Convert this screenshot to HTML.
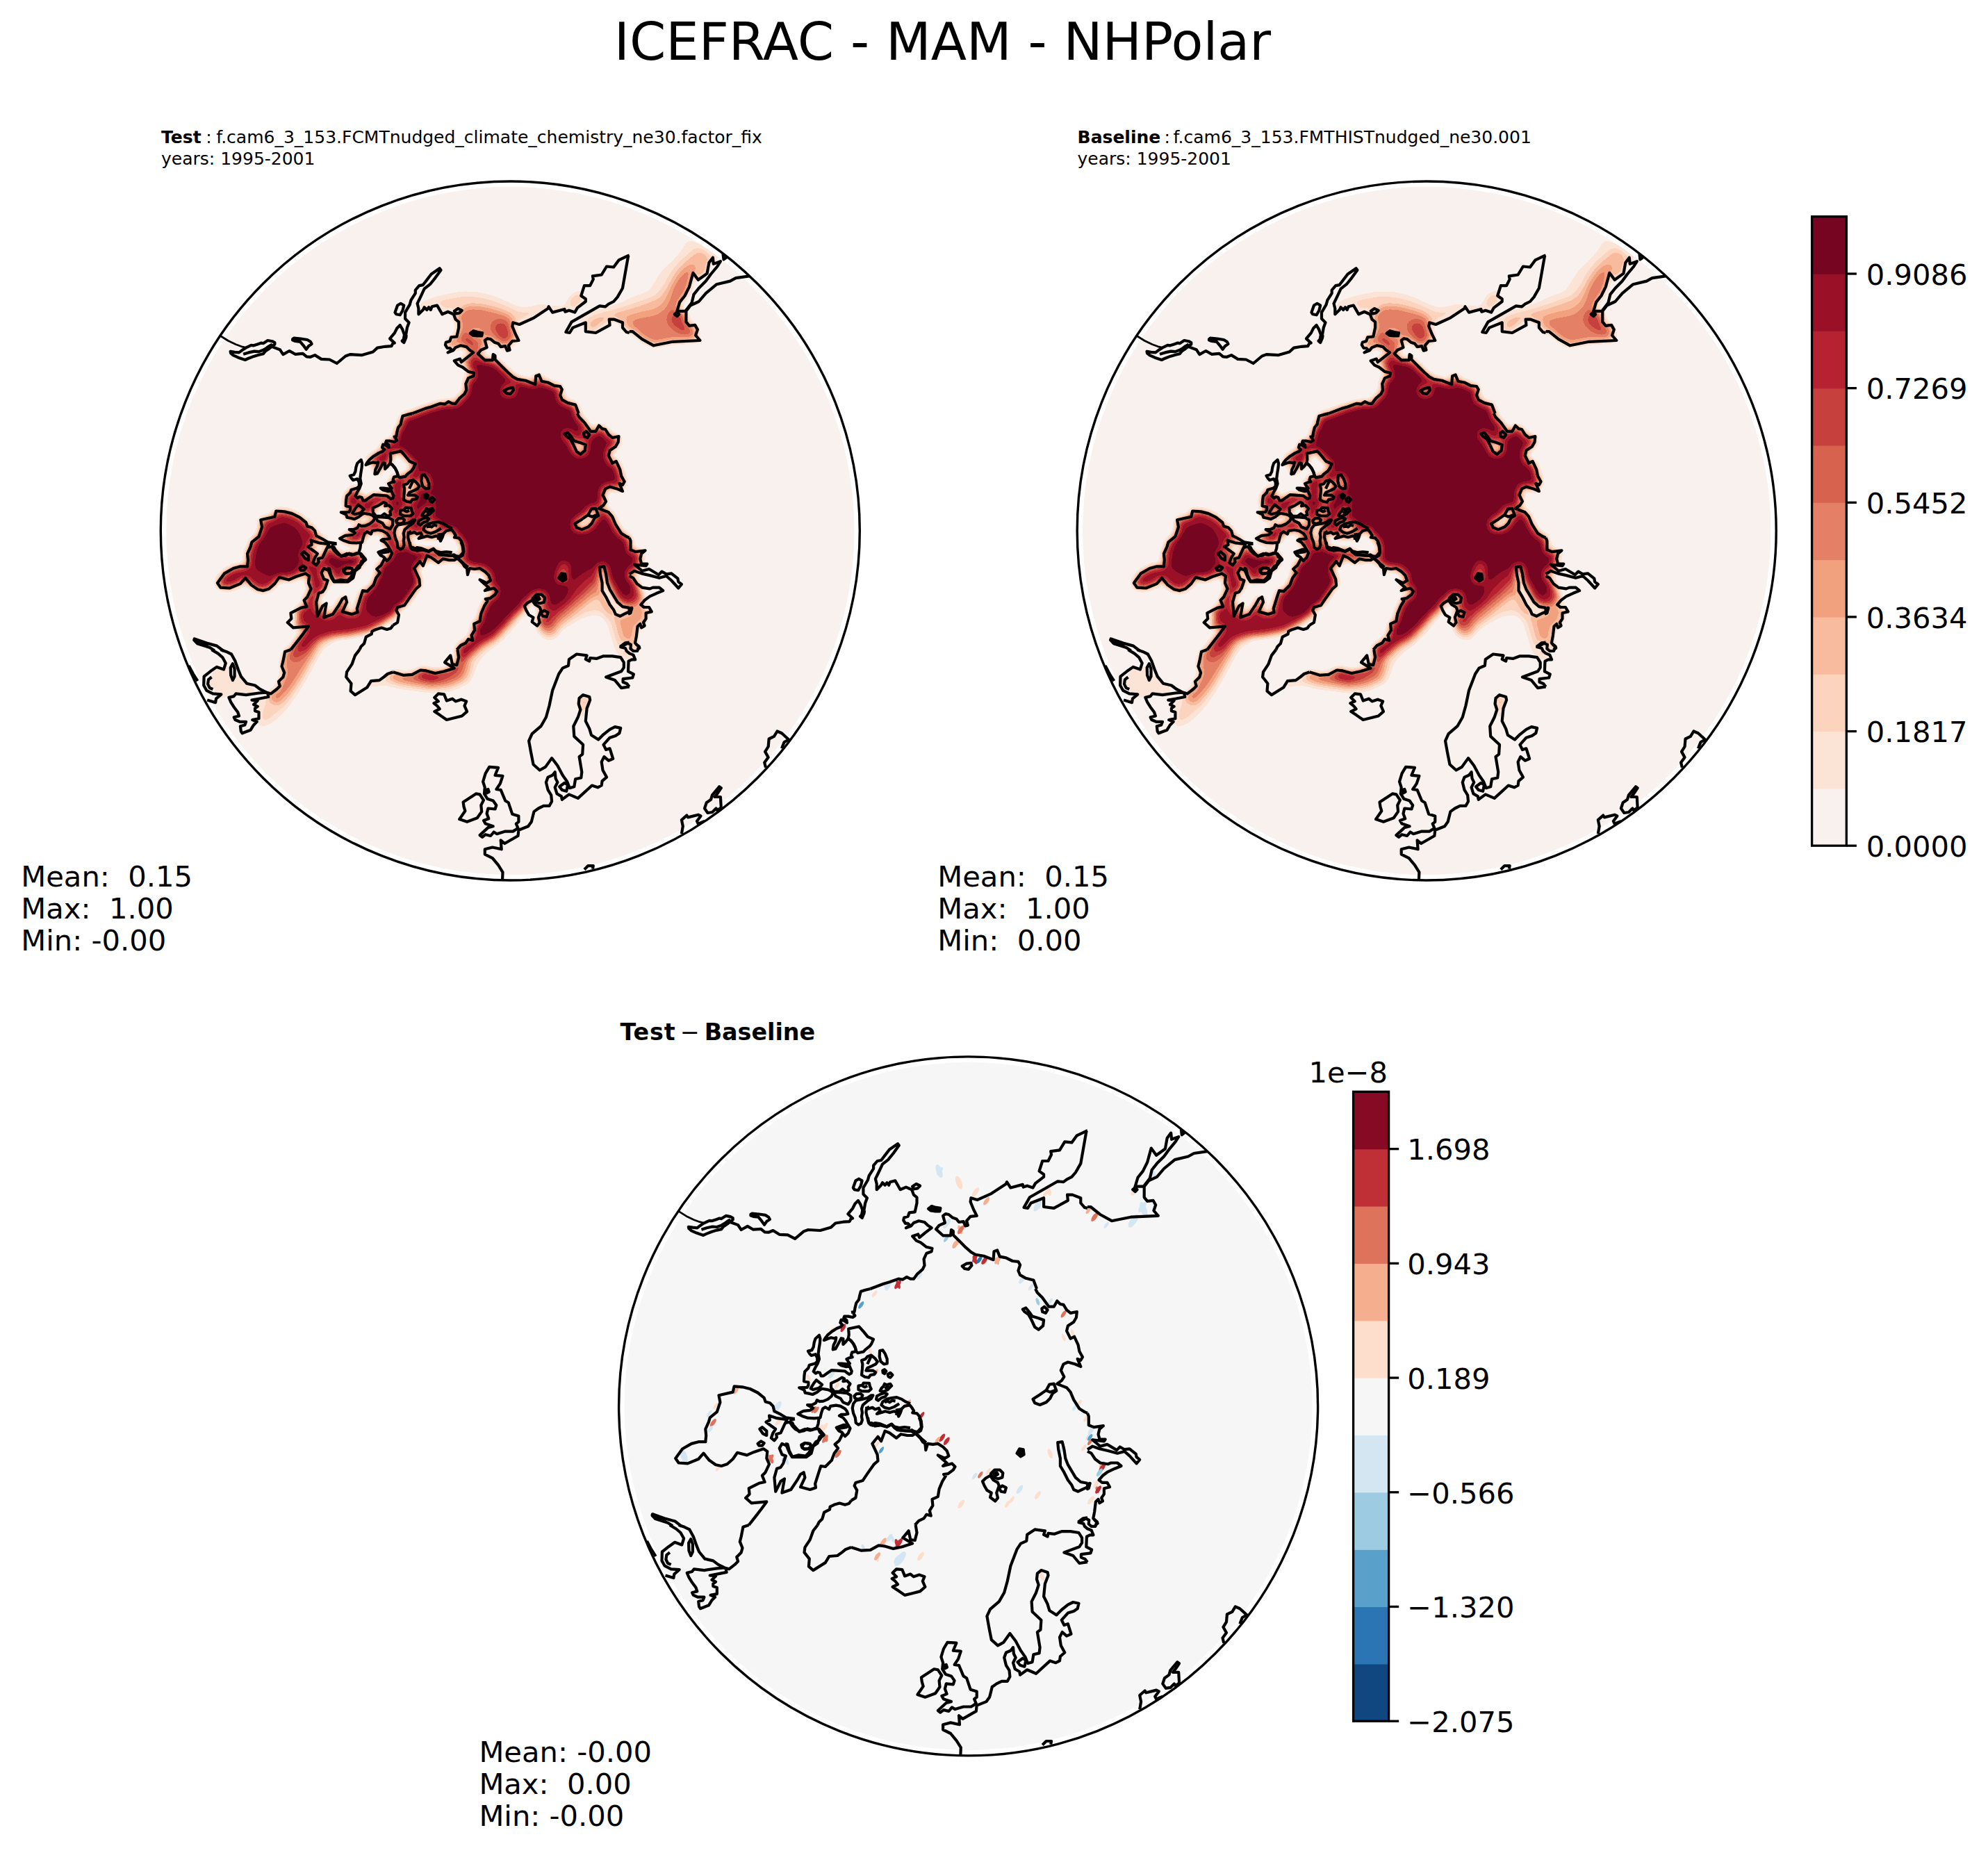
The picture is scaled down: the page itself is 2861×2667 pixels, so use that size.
<!DOCTYPE html>
<html lang="en"><head><meta charset="utf-8"><title>ICEFRAC - MAM - NHPolar</title>
<style>
html,body{margin:0;padding:0;background:#fff}
svg{display:block}
text{font-family:"DejaVu Sans","Liberation Sans",sans-serif;fill:#000}
.b{font-weight:bold}
</style></head><body>
<svg width="2861" height="2667" viewBox="0 0 2861 2667">
<defs>
<clipPath id="clipc"><circle cx="0" cy="0" r="503.0"/></clipPath>
<clipPath id="clipf"><circle cx="0" cy="0" r="495.0"/></clipPath>
<g id="coast" fill="none" stroke="#000" stroke-width="4.2" stroke-linejoin="round" stroke-linecap="butt" clip-path="url(#clipc)">
<path d="M-417.4,-280.8 L-405.8,-273.5 L-394.8,-268.2 L-386.6,-265.2 L-380.2,-263.6" stroke-width="2.8"/>
<path d="M-380.2,-263.6 L-372.8,-267.1 L-369.2,-266.7 L-363.6,-268.5 L-358.1,-270.4 L-355.4,-269.8 L-349.0,-274.0 L-342.5,-272.8 L-338.9,-270.9 L-338.9,-268.5 L-342.5,-265.8 L-347.1,-262.1 L-352.6,-258.4 L-355.4,-254.8 L-361.8,-253.3 L-369.2,-251.1 L-376.5,-248.3 L-381.4,-246.0 L-391.2,-249.3 L-398.5,-252.6 L-402.2,-255.7 L-402.7,-258.1 L-396.7,-257.2 L-390.3,-256.6 L-386.6,-259.4Z"/>
<path d="M-384.2,-254.2 L-376.5,-256.6 L-368.2,-258.4 L-361.8,-257.9 L-355.4,-260.3 L-350.8,-263.0 L-347.1,-265.8 L-342.5,-268.5"/>
<path d="M-342.5,-264.9 L-331.5,-260.8 L-326.9,-253.9 L-317.8,-259.0 L-309.5,-254.2 L-298.5,-255.1 L-293.0,-250.6 L-287.5,-250.2 L-281.1,-252.9 L-271.9,-247.1 L-260.0,-246.5 L-249.5,-241.0 L-237.0,-251.5 L-230.6,-253.9 L-213.2,-252.9 L-197.6,-257.5 L-191.2,-263.4 L-180.2,-265.2 L-171.0,-265.8 L-168.6,-270.4"/>
<path d="M-313.2,-275.9 L-311.4,-277.3 L-301.3,-276.4 L-292.1,-275.0 L-287.5,-272.2 L-285.7,-268.9 L-290.3,-265.8 L-293.6,-261.2 L-297.6,-266.7 L-302.2,-272.2 L-309.5,-273.1 L-313.2,-274.4Z"/>
<path d="M-150.3,-281.4 L-148.4,-292.4 L-145.7,-299.7 L-151.2,-305.2 L-151.2,-314.4 L-144.7,-325.4 L-142.9,-331.8 L-136.5,-341.9 L-136.5,-346.5 L-131.0,-352.9 L-125.5,-353.9 L-113.6,-369.5 L-101.6,-377.7 L-99.8,-375.3 L-108.0,-363.9 L-115.4,-354.8 L-123.6,-348.3 L-129.2,-336.4 L-133.7,-327.2 L-131.9,-319.9 L-131.9,-311.7 L-125.5,-318.1 L-123.6,-321.7 L-120.0,-318.1 L-117.2,-321.7 L-114.5,-318.1 L-112.6,-322.7 L-105.3,-324.5 L-101.6,-318.1 L-98.0,-311.7 L-89.7,-315.3 L-81.4,-311.7 L-78.7,-304.3 L-74.1,-300.6 L-74.1,-292.4 L-76.9,-279.5 L-85.1,-278.6 L-86.9,-273.1 L-92.5,-271.3 L-93.4,-267.6 L-90.6,-263.0 L-86.9,-263.0 L-84.2,-260.3 L-89.7,-256.6 L-82.4,-259.4 L-78.7,-263.9 L-71.4,-266.7 L-63.1,-264.9 L-58.5,-260.3 L-53.0,-256.6 L-61.3,-250.2 L-70.4,-242.8 L-72.3,-247.4 L-80.5,-244.7 L-75.0,-238.3 L-68.6,-235.5 L-60.3,-229.1 L-52.1,-227.2 L-53.0,-222.7 L-60.3,-219.9 L-64.0,-211.7 L-63.1,-202.5 L-65.8,-197.0 L-73.2,-190.6 L-78.7,-183.2 L-83.3,-183.2 L-88.8,-186.0 L-94.3,-182.3 L-100.7,-183.2 L-113.6,-178.6 L-122.7,-175.9 L-141.1,-168.9"/>
<path d="M-165.8,-314.4 L-162.2,-324.5 L-157.6,-327.2 L-153.0,-324.5 L-154.8,-317.2 L-158.5,-310.7 L-164.0,-311.7Z"/>
<path d="M-80.5,-316.2 L-75.0,-319.9 L-69.5,-317.2 L-73.2,-313.5 L-77.8,-312.6Z"/>
<path d="M-57.6,-284.1 L-53.0,-287.8 L-46.6,-286.0 L-40.2,-285.0 L-41.1,-280.5 L-47.5,-280.5 L-53.9,-281.4Z" fill="#000"/>
<path d="M171.4,-396.6 L169.9,-396.1 L156.2,-389.6 L148.8,-379.5 L138.7,-380.5 L131.4,-368.5 L118.6,-366.7 L119.5,-362.1 L114.9,-352.9 L106.6,-352.9 L102.0,-338.3 L108.5,-333.7 L108.5,-330.0 L96.5,-320.8 L92.9,-314.4 L84.6,-317.2 L79.1,-315.3 L78.2,-319.0 L60.8,-314.4 L55.3,-322.7 L54.3,-319.9 L33.2,-306.1 L13.1,-297.0 L3.9,-299.7 L3.0,-294.2 L7.5,-283.2 L12.1,-274.0 L3.0,-273.1 L-2.5,-266.7 L-0.7,-260.3 L-4.4,-259.4 L-7.1,-265.8 L-13.6,-264.9 L-17.2,-269.5 L-22.7,-271.3 L-28.2,-275.9 L-32.8,-276.8 L-36.5,-274.0 L-33.7,-263.9 L-42.0,-260.3 L-46.6,-254.8 L-36.5,-245.6 L-25.5,-245.6 L-24.6,-253.9 L-21.8,-252.0 L-21.8,-246.5 L-12.6,-237.3 L-3.5,-228.2 L3.9,-221.7 L10.3,-218.1 L22.2,-216.2 L36.0,-210.7 L36.9,-222.7 L41.5,-224.5 L45.2,-215.3 L54.3,-213.5 L63.5,-208.9 L71.8,-208.0 L74.5,-203.4 L71.8,-195.1 L74.5,-188.7 L82.8,-184.1 L93.8,-181.4 L98.4,-168.9"/>
<path d="M169.9,-396.1 L161.7,-349.3 L154.3,-336.4 L148.8,-330.0 L141.5,-326.3 L136.9,-322.7 L128.6,-323.6 L88.3,-300.6 L80.0,-286.0 L85.5,-285.0 L90.1,-292.4 L108.5,-299.7 L108.5,-286.9 L123.1,-285.0 L143.3,-296.1 L142.4,-304.3 L149.7,-304.3 L161.7,-299.7 L161.7,-292.4 L167.2,-286.0 L171.4,-285.0"/>
<path d="M-9.0,-201.6 L-2.5,-205.2 L3.9,-206.1 L4.8,-202.5 L0.2,-197.0 L-5.3,-197.9Z"/>
<path d="M171.4,-286.9 L176.0,-286.9 L189.7,-275.9 L206.3,-266.7 L233.8,-272.2 L273.2,-274.0 L266.8,-281.4 L269.6,-289.6 L265.9,-296.1 L257.6,-295.1 L253.1,-300.6 L253.1,-316.2 L259.5,-324.5 L271.4,-330.0 L281.5,-341.9 L297.1,-354.8 L316.4,-359.4 L324.6,-363.9 L343.9,-366.7"/>
<path d="M238.4,-310.7 L243.9,-329.1 L251.2,-338.3 L257.6,-351.1 L263.1,-371.3 L270.5,-361.2 L283.3,-370.4 L286.1,-386.0 L291.6,-393.3 L292.5,-384.1 L302.6,-387.8 L298.0,-380.5 L288.8,-369.5 L281.5,-359.4 L271.4,-349.3 L264.1,-340.1 L261.3,-328.2 L252.1,-316.2 L242.0,-316.2Z"/>
<path d="M236.5,-311.7 L240.2,-314.4 L243.0,-311.7 L240.2,-308.9Z" fill="#000"/>
<path d="M306.3,-397.9 L310.8,-393.3 L307.2,-390.6Z" fill="#000"/>
<path d="M-249.9,18.3 L-262.7,16.4 L-270.1,11.8 L-279.2,7.2 L-281.1,-0.1 L-285.7,-4.7 L-292.1,-6.5 L-293.9,-12.0 L-303.1,-19.4 L-314.1,-24.9 L-325.1,-27.6 L-337.0,-28.5 L-338.9,-20.3 L-359.1,-15.7 L-357.2,-5.6 L-361.8,8.2 L-371.9,16.4 L-373.7,22.8 L-378.3,32.9 L-377.4,42.1 L-378.3,51.3 L-388.4,51.3 L-398.5,54.0 L-411.4,61.4 L-421.4,75.1 L-416.9,81.6 L-404.0,82.5 L-388.4,76.1 L-381.1,67.8 L-372.8,77.9 L-363.6,84.3 L-355.4,86.1 L-347.1,83.4 L-338.9,76.1 L-332.5,66.9 L-318.7,70.5 L-308.6,66.0 L-294.8,61.4 L-289.3,65.0 L-290.3,75.1 L-286.6,83.4 L-292.1,95.3 L-296.7,99.9 L-293.0,109.1 L-301.3,110.9 L-315.9,118.3 L-315.0,126.5 L-320.5,132.0 L-312.3,139.4 L-290.3,137.5 L-297.6,147.6 L-306.8,159.5 L-315.9,171.1"/>
<path d="M-286.6,13.7 L-275.6,17.3 L-260.9,19.2 L-264.6,26.5 L-270.1,38.4 L-276.5,40.3 L-275.6,44.9 L-279.2,49.4 L-283.8,45.8 L-281.1,38.4 L-277.4,32.9 L-283.8,28.3 L-291.2,22.8 L-285.7,20.1Z"/>
<path d="M-300.3,32.9 L-296.7,30.2 L-290.3,35.7 L-290.3,42.1 L-295.8,39.4Z"/>
<path d="M-303.1,54.0 L-298.5,50.4 L-293.9,53.1 L-296.7,56.8 L-301.3,56.8Z"/>
<path d="M-249.9,18.3 L-255.4,20.1 L-251.7,27.4 L-243.5,36.6 L-235.2,32.9 L-227.9,34.8 L-220.5,32.0 L-215.0,32.9 L-208.6,40.3 L-214.1,43.9 L-216.9,53.1 L-223.3,57.7 L-226.0,67.8 L-233.4,73.3 L-253.6,73.3 L-257.2,67.8 L-261.8,56.8 L-268.2,54.0 L-271.9,60.5 L-268.2,69.6 L-262.7,71.5 L-266.4,82.5 L-270.1,88.0 L-275.6,89.8 L-279.2,102.7 L-277.4,122.8 L-270.1,108.2 L-264.6,104.5 L-268.2,124.7 L-255.4,120.1 L-246.2,106.3 L-241.6,98.1 L-237.0,95.3 L-235.2,102.7 L-241.6,116.4 L-227.9,120.1 L-219.6,117.3 L-220.5,111.8 L-215.9,97.2 L-212.3,86.1 L-205.8,87.1 L-196.7,77.9 L-193.0,67.8 L-187.5,60.5 L-192.1,55.0 L-185.7,49.4 L-180.2,38.4"/>
<path d="M-239.8,57.7 L-235.2,53.1 L-227.9,54.0 L-225.1,58.6 L-231.5,61.4 L-237.0,61.4Z"/>
<path d="M-141.1,-168.9 L-148.4,-167.1 L-154.8,-165.2 L-156.7,-157.9 L-157.6,-153.3 L-161.3,-148.7 L-163.1,-141.4 L-164.0,-135.9 L-168.6,-135.0"/>
<path d="M-168.6,135.7 L-162.2,132.0 L-160.3,121.0 L-164.0,114.6 L-162.2,110.0 L-152.1,107.2 L-144.7,96.2 L-135.6,83.4 L-130.1,78.8 L-131.0,69.6 L-138.3,54.0 L-130.1,43.9 L-125.5,50.4 L-120.0,35.7 L-113.6,38.4 L-103.5,45.8 L-97.0,40.3 L-87.9,42.1 L-80.5,42.1 L-75.9,39.4 L-68.6,46.7 L-65.8,51.3 L-62.2,54.0 L-61.3,63.2 L-58.5,54.0 L-51.2,55.0 L-43.8,54.0 L-36.5,58.6 L-31.0,64.1 L-28.2,71.5 L-33.7,75.1 L-43.8,70.5 L-36.5,77.0 L-31.0,81.6 L-36.5,86.1 L-23.6,82.5 L-19.1,87.1 L-21.8,91.7 L-29.2,97.2 L-35.6,98.1 L-32.8,100.8 L-37.4,108.2 L-42.0,119.2 L-43.8,130.2 L-52.1,133.9 L-51.2,143.0 L-55.8,150.4 L-53.9,157.7 L-60.3,155.9 L-64.0,161.4 L-71.4,165.0 L-76.9,171.1"/>
<path d="M96.5,-168.9 L99.3,-163.4 L106.6,-156.1 L115.8,-143.2 L123.1,-143.2 L127.7,-151.5 L132.3,-146.9 L136.9,-146.0 L141.5,-138.6 L147.0,-134.0 L156.2,-135.9 L155.3,-127.6 L151.6,-121.2 L143.3,-115.7 L141.5,-108.3 L147.0,-97.3 L152.5,-100.1 L158.0,-88.2 L159.8,-79.0 L164.4,-70.7 L161.7,-66.1 L157.1,-68.0 L161.7,-57.0 L153.4,-60.6 L143.3,-63.4 L136.9,-60.6 L133.2,-51.5 L137.8,-42.3 L134.2,-36.8 L127.7,-32.2 L134.2,-29.5 L141.5,-26.7 L147.0,-20.3 L151.6,-9.3 L159.8,3.6 L167.2,8.2 L171.4,10.0"/>
<path d="M78.2,-139.5 L82.8,-141.4 L87.4,-135.9 L92.0,-129.5 L101.1,-126.7 L108.5,-123.9 L107.5,-115.7 L101.1,-110.2 L95.6,-113.9 L91.0,-123.9 L86.4,-132.2 L80.9,-135.9Z"/>
<path d="M105.7,-140.5 L109.4,-143.2 L114.0,-138.6 L111.2,-134.0 L106.6,-135.9Z"/>
<path d="M92.9,-10.2 L103.0,-16.6 L112.1,-23.0 L116.7,-31.3 L123.1,-32.2 L126.8,-22.1 L121.3,-18.4 L117.6,-11.1 L112.1,-5.6 L103.0,-1.9 L95.6,-4.7Z"/>
<path d="M111.2,-23.0 L117.6,-20.3 L125.0,-23.0"/>
<path d="M69.9,67.8 L73.6,61.4 L79.1,62.3 L80.0,69.6 L75.4,72.4Z" fill="#000"/>
<path d="M171.4,110.9 L161.7,109.1 L154.3,102.7 L148.8,93.5 L143.3,84.3 L139.7,75.1 L137.8,62.3 L135.1,51.3 L128.6,52.2 L129.6,62.3 L132.3,75.1 L132.3,86.1 L137.8,95.3 L143.3,106.3 L148.8,113.7 L151.6,120.1 L158.0,122.8 L165.3,119.2 L171.4,116.4"/>
<path d="M20.4,108.2 L25.0,103.6 L31.4,99.9 L36.0,106.3 L42.4,110.0 L44.2,114.6 L40.6,124.7 L42.4,132.0 L38.7,136.6 L31.4,131.1 L33.2,124.7 L26.8,121.0 L23.1,114.6Z"/>
<path d="M32.3,97.2 L37.8,91.7 L45.2,91.7 L49.7,96.2 L48.8,102.7 L42.4,104.5 L35.1,101.7Z"/>
<path d="M36.9,97.2 L40.6,95.3 L42.4,98.1 L38.7,99.9Z"/>
<path d="M44.2,118.3 L48.8,114.6 L54.3,117.3 L52.5,123.8 L47.0,122.8Z"/>
<path d="M158.0,166.9 L165.3,161.4 L171.4,160.5"/>
<path d="M171.4,10.0 L173.2,14.6 L173.2,27.4 L180.6,30.2 L194.3,28.3 L188.8,32.9 L187.0,40.3 L188.8,47.6 L197.1,47.6 L195.3,50.4 L178.7,48.5 L184.2,53.1 L189.7,57.7 L199.8,55.0 L213.6,63.2 L218.2,58.6 L224.6,62.3 L232.0,61.4 L241.1,68.7 L242.0,73.3 L246.6,77.0 L242.0,82.5 L232.0,71.5 L224.6,65.0 L214.5,67.8 L200.8,64.1 L188.8,61.4 L178.7,57.7 L171.4,62.3"/>
<path d="M171.4,65.0 L176.9,67.8 L182.4,76.1 L189.7,81.6 L200.8,83.4 L205.3,81.6 L214.5,81.6 L220.0,86.1 L210.8,89.8 L200.8,94.4 L193.4,99.9 L187.9,106.3 L192.5,110.0 L199.8,110.0 L203.5,116.4 L195.3,118.3 L195.3,126.5 L191.6,132.0 L193.4,136.6 L188.8,139.4 L187.0,133.9 L183.3,137.5 L181.5,152.2 L179.7,161.4 L186.1,168.7 L182.4,171.1"/>
<path d="M171.4,111.8 L175.1,110.9 L173.2,118.3 L171.4,119.2Z" fill="#000"/>
<path d="M-315.9,171.1 L-324.2,173.9 L-326.9,187.6 L-328.8,195.0 L-325.1,204.1 L-326.9,210.5 L-333.4,217.0 L-331.5,223.4 L-336.1,228.0 L-344.4,234.4 L-350.8,232.6 L-360.0,228.0 L-367.3,222.5 L-379.2,219.7 L-387.5,209.6 L-391.2,200.5 L-395.8,187.6 L-401.3,177.5 L-408.6,173.9 L-416.9,171.1"/>
<path d="M-350.8,232.6 L-361.8,233.5 L-380.2,236.2 L-394.8,234.4 L-397.6,238.1 L-404.9,239.9 L-402.2,246.3 L-397.6,253.7 L-392.1,261.0 L-390.3,266.5 L-397.6,268.3 L-395.8,272.0 L-389.3,274.8 L-380.2,274.8 L-382.0,279.4 L-388.4,281.2 L-387.5,288.5 L-385.7,291.3 L-373.7,286.7 L-369.2,279.4 L-364.6,274.8 L-371.0,272.0 L-361.8,270.2 L-361.8,261.0 L-367.3,259.2 L-367.3,255.5 L-363.6,252.8 L-369.2,250.0 L-363.6,244.5 L-371.9,243.6 L-361.8,241.7 L-348.0,239.0 L-349.0,234.4"/>
<path d="M-429.7,171.1 L-420.5,176.6 L-414.1,182.1 L-409.5,190.4 L-412.3,199.5 L-422.4,195.9 L-431.5,202.3 L-440.7,209.6 L-441.1,222.5 L-437.0,229.8 L-427.9,234.4 L-415.9,235.3 L-423.3,241.7 L-424.2,247.2 L-436.1,243.6"/>
<path d="M-429.7,210.5 L-434.3,214.2 L-435.2,220.6 L-432.5,226.1 L-427.9,228.0"/>
<path d="M-399.4,191.3 L-396.7,198.6 L-396.7,209.6 L-399.4,215.1 L-402.2,207.8 L-402.5,196.8Z"/>
<path d="M-462.7,194.0 L-456.3,206.0 L-449.9,216.1"/>
<path d="M-168.6,203.2 L-176.5,206.0 L-182.0,210.5 L-188.4,215.1 L-200.3,216.1 L-205.8,225.2 L-223.3,236.2 L-229.7,230.7 L-228.8,219.7 L-236.1,210.5 L-235.2,203.2 L-227.9,192.2 L-223.3,179.4 L-216.9,171.1"/>
<path d="M-168.6,203.2 L-153.9,207.8 L-141.1,206.9 L-129.2,200.5 L-120.9,201.4 L-108.0,205.0 L-95.2,202.3 L-80.5,197.7 L-94.3,189.4 L-86.0,179.4 L-83.3,192.2 L-76.9,193.1 L-74.1,182.1 L-75.9,171.1"/>
<path d="M-109.0,239.9 L-103.5,234.4 L-95.2,235.3 L-91.5,244.5 L-83.3,241.7 L-78.7,245.4 L-70.4,242.7 L-63.1,245.4 L-65.8,251.8 L-62.2,260.1 L-69.5,266.5 L-80.5,269.3 L-91.5,272.0 L-100.7,265.6 L-109.0,260.1 L-101.6,256.4 L-105.3,251.8 L-109.9,248.2 L-103.5,245.4Z"/>
<path d="M-30.1,339.9 L-17.2,340.8 L-21.8,351.8 L-10.8,352.8 L-14.5,363.8 L-20.0,372.0 L-13.6,372.9 L-7.1,388.5 L-2.5,391.3 L3.0,407.8 L12.1,410.5 L12.1,418.8 L8.5,421.6 L11.2,428.0 L3.9,432.6 L-7.1,432.6 L-19.1,436.2 L-23.6,433.5 L-28.2,439.0 L-35.6,437.2 L-40.2,440.8 L-43.8,438.1 L-31.9,427.1 L-24.6,425.2 L-35.6,421.6 L-38.3,417.0 L-31.0,414.2 L-33.7,406.9 L-31.9,399.5 L-21.8,400.5 L-20.0,395.0 L-24.6,388.5 L-32.8,385.8 L-37.4,378.4 L-36.5,369.3 L-39.2,361.0 L-35.6,349.1Z"/>
<path d="M-35.0,372.9 L-31.9,372.0 L-30.6,375.7 L-33.7,377.5Z" fill="#000"/>
<path d="M-67.7,390.4 L-49.3,378.4 L-43.8,379.4 L-38.3,387.6 L-42.0,395.0 L-41.1,404.1 L-47.5,413.3 L-62.2,418.8 L-73.2,415.1 L-64.9,403.2 L-66.8,396.8Z"/>
<path d="M171.4,224.3 L159.8,226.1 L150.7,215.1 L137.8,210.5 L159.8,202.3 L163.5,196.8 L163.5,189.4 L158.9,182.1 L147.0,180.3 L134.2,180.3 L124.1,183.9 L114.9,183.0 L114.0,187.6 L108.5,184.9 L110.3,179.4 L95.6,177.5 L84.6,184.9 L83.7,194.0 L75.4,197.7 L69.9,206.0 L60.8,229.8 L56.2,251.8 L51.6,268.3 L44.2,281.2 L31.4,292.2 L26.8,302.3 L29.6,317.9 L33.2,336.2 L42.4,344.5 L50.7,339.9 L59.8,327.1 L68.1,338.1 L75.4,351.8 L81.9,361.0 L85.5,370.2 L92.0,368.3 L93.8,357.3 L102.0,355.5 L103.0,347.2 L99.3,325.2 L103.9,321.6 L104.8,307.8 L92.0,295.9 L91.0,281.2 L97.5,268.3 L101.1,257.3 L98.4,249.1 L99.3,240.8 L104.8,236.2 L114.0,239.0 L114.9,243.6 L110.3,255.5 L108.5,273.9 L114.0,284.9 L116.7,294.0 L126.8,300.5 L134.2,293.1 L143.3,285.8 L150.7,282.1 L158.9,283.9 L157.1,291.3 L151.6,295.0 L143.3,297.7 L134.2,307.8 L137.8,315.1 L143.3,313.3 L147.9,328.0 L141.5,330.7 L135.1,325.2 L131.4,332.6 L133.2,344.5 L138.7,354.6 L132.3,360.1 L131.4,366.5 L125.9,369.3 L117.6,366.5 L97.5,384.9 L84.6,379.4 L74.5,386.7 L73.6,382.1 L67.2,378.4 L64.4,369.3 L68.1,361.9 L65.3,356.4 L64.4,347.2 L60.8,351.8 L54.3,354.6 L51.6,361.9 L54.3,372.9 L58.9,380.3 L59.8,389.4 L56.2,395.9 L47.9,395.9 L40.6,399.5 L34.2,404.1 L30.5,418.8 L25.9,425.2 L12.1,430.7 L11.2,439.0 L-8.0,450.0 L-13.6,445.4 L-12.6,458.3 L-25.5,455.5 L-36.5,458.3 L-36.5,465.6 L-25.5,471.1 L-17.2,481.2 L-10.8,491.3 L-11.2,501.4"/>
<path d="M70.8,368.3 L78.2,362.8 L82.8,365.6 L80.9,374.8 L74.5,372.9Z"/>
<path d="M106.6,487.6 L112.1,482.1 L119.5,482.1 L118.6,486.7"/>
<path d="M246.6,436.2 L248.5,425.2 L246.6,416.1 L254.0,409.6 L255.8,412.4 L270.5,408.7 L274.2,410.5 L268.6,417.9 L270.5,421.6 L279.7,417.9"/>
<path d="M279.7,399.5 L282.4,391.3 L288.8,386.7 L290.7,380.3 L300.8,368.3 L303.5,370.2 L298.0,378.4 L294.3,383.0 L302.6,383.0 L303.5,398.6 L298.0,402.3 L296.2,399.5 L290.7,405.0 L284.2,406.0Z"/>
<path d="M367.7,340.8 L365.9,333.5 L371.4,326.1 L366.8,317.9 L371.4,310.5 L372.3,299.5 L379.7,295.9 L384.2,288.5 L390.7,291.3 L400.8,300.5 L394.3,304.1 L390.7,313.3"/>
<path d="M-165.5,-133.9 L-163.2,-130.2 L-166.4,-127.9 L-172.9,-129.3 L-178.4,-129.3 L-179.3,-127.0 L-175.2,-123.8 L-174.7,-120.1 L-179.3,-123.3 L-183.0,-124.3 L-184.3,-120.1 L-181.1,-116.9 L-183.9,-114.2 L-189.4,-111.9 L-196.7,-107.3 L-202.7,-102.2 L-205.9,-98.1 L-207.7,-94.9 L-202.2,-97.2 L-197.6,-98.6 L-193.0,-97.7 L-190.3,-98.6 L-191.2,-93.5 L-194.0,-88.0 L-194.9,-81.6 L-191.2,-82.5 L-186.6,-90.8 L-183.0,-97.7 L-180.2,-97.2 L-180.2,-88.9 L-176.5,-92.6 L-172.9,-97.2 L-169.2,-94.5 L-165.5,-89.9 L-162.8,-84.4 L-161.4,-78.9 L-167.4,-77.5 L-168.7,-73.3 L-166.9,-70.6 L-171.0,-69.7 L-175.2,-67.8 L-172.9,-64.2 L-170.6,-61.4 L-174.7,-60.5 L-182.0,-61.4 L-186.6,-61.4 L-183.0,-58.7 L-175.6,-56.8 L-171.0,-57.8 L-169.2,-53.2 L-167.8,-50.4 L-168.7,-47.2 L-171.5,-45.8 L-174.7,-48.1 L-177.5,-50.4 L-189.4,-51.3 L-196.7,-51.8 L-202.2,-48.1 L-208.6,-43.5 L-211.9,-43.5 L-213.7,-48.1 L-216.9,-49.0 L-219.7,-47.2 L-222.9,-50.0 L-220.1,-55.9 L-216.9,-61.4 L-214.6,-67.8 L-216.0,-75.2 L-215.1,-82.5 L-213.7,-90.8 L-213.2,-97.2 L-214.6,-102.2 L-220.1,-97.2 L-221.9,-91.7 L-222.9,-85.3 L-225.2,-80.7 L-230.7,-79.3 L-228.8,-76.1 L-226.1,-72.9 L-220.1,-74.7 L-217.4,-69.7 L-217.4,-64.2 L-220.6,-61.4 L-228.8,-59.1 L-230.2,-55.0 L-235.3,-50.0 L-236.2,-43.5 L-236.6,-35.7 L-230.2,-34.4 L-230.2,-30.2 L-232.0,-27.0 L-243.5,-26.6 L-236.2,-23.3 L-234.8,-19.2 L-229.7,-18.3 L-224.2,-16.9 L-217.8,-20.1 L-213.2,-23.8 L-210.5,-25.2 L-202.2,-23.8 L-198.6,-22.4 L-194.9,-19.2 L-196.7,-14.6 L-202.2,-10.0 L-208.6,-7.3 L-214.2,-6.8 L-217.8,-8.7 L-219.7,-4.5 L-225.2,-1.8 L-231.6,-1.8 L-223.3,2.8 L-227.9,6.0 L-237.5,6.9 L-245.3,11.1 L-238.9,14.3 L-230.7,17.0 L-221.5,17.5 L-213.2,16.6 L-211.4,9.2 L-209.6,3.7 L-205.9,1.4 L-200.4,4.6 L-198.6,0.0 L-190.3,-1.3 L-183.9,0.0 L-177.5,3.7 L-174.7,7.4 L-173.3,11.1 L-177.5,12.0 L-183.0,12.0 L-185.7,13.8 L-180.2,16.6 L-176.5,21.1 L-172.9,27.6 L-175.6,30.3 L-181.1,31.2 L-187.5,32.2 L-184.8,36.1"/>
<path d="M-172.4,-111.4 L-157.3,-114.6 L-150.8,-107.3 L-144.9,-100.0 L-136.6,-96.3 L-139.4,-89.9 L-142.1,-86.2 L-148.1,-81.6 L-150.8,-78.4 L-159.1,-76.6 L-161.4,-78.9 L-162.8,-84.4 L-165.5,-89.9 L-169.2,-94.5 L-172.9,-97.2 L-171.9,-102.7Z"/>
<path d="M-127.5,-79.8 L-123.3,-80.7 L-119.7,-75.2 L-116.9,-67.8 L-116.9,-61.4 L-121.5,-60.5 L-126.1,-64.2 L-127.9,-71.5Z"/>
<path d="M-153.6,-66.0 L-148.1,-67.8 L-145.3,-71.5 L-139.8,-73.3 L-134.3,-68.8 L-130.7,-64.2 L-133.4,-60.5 L-138.9,-57.8 L-145.3,-55.0 L-147.2,-51.3 L-137.1,-51.3 L-133.4,-48.6 L-135.3,-45.8 L-140.8,-44.9 L-143.5,-41.2 L-149.0,-42.2 L-153.6,-44.9 L-152.7,-53.2 L-152.2,-60.5Z"/>
<path d="M-145.3,-60.5 L-139.8,-72.4"/>
<path d="M-123.3,-51.3 L-120.6,-52.7 L-118.3,-50.4 L-120.6,-46.7 L-122.9,-48.1Z"/>
<path d="M-116.0,-45.8 L-112.3,-48.1 L-109.1,-44.9 L-112.3,-41.2 L-115.1,-42.6Z"/>
<path d="M-218.7,-37.6 L-210.5,-31.1 L-215.1,-26.1 L-223.3,-23.8 L-227.0,-25.6 L-222.4,-33.0Z"/>
<path d="M-197.6,-33.0 L-189.4,-36.7 L-182.0,-41.2 L-178.4,-39.4 L-180.2,-35.7 L-174.7,-36.7 L-170.1,-32.1 L-172.9,-27.5 L-171.9,-22.9 L-176.5,-21.1 L-181.1,-24.7 L-185.7,-21.1 L-193.0,-21.1 L-197.6,-26.6Z"/>
<path d="M-158.2,-29.3 L-152.7,-30.2 L-150.8,-33.4 L-142.6,-33.0 L-141.7,-28.4 L-139.8,-24.7 L-143.5,-21.5 L-152.7,-21.5 L-158.2,-23.8Z"/>
<path d="M-152.7,-29.3 L-149.0,-27.5 L-145.3,-29.3"/>
<path d="M-120.6,-32.1 L-117.8,-30.7 L-112.3,-32.1 L-110.5,-29.3 L-116.0,-23.8 L-121.5,-21.1 L-127.0,-22.0 L-125.2,-25.6 L-122.4,-28.4Z"/>
<path d="M-120.6,-25.6 L-114.2,-29.3"/>
<path d="M-131.6,-14.6 L-126.1,-17.4 L-120.6,-19.2 L-116.9,-17.4 L-119.7,-13.7 L-125.2,-11.9 L-129.7,-8.2 L-132.5,-10.0Z"/>
<path d="M-164.2,-14.6 L-160.9,-17.8 L-155.4,-18.3 L-152.2,-15.6 L-153.6,-11.9 L-159.1,-10.0 L-163.2,-11.4Z"/>
<path d="M-194.0,-20.1 L-183.9,-19.7 L-174.7,-18.8 L-169.2,-15.6 L-169.2,-8.2 L-172.9,-2.7 L-180.2,-5.5 L-183.9,-11.0 L-191.2,-14.6Z"/>
<path d="M-161.9,-8.2 L-152.7,-10.0 L-145.3,-11.9 L-139.8,-15.6 L-137.1,-15.6 L-139.8,-11.0 L-145.3,-7.3 L-151.8,-1.8 L-153.6,3.7 L-152.7,9.2 L-153.6,14.7 L-152.7,20.2 L-154.5,24.8 L-158.2,26.7 L-161.9,23.9 L-162.8,16.6 L-165.5,10.1 L-166.9,2.8 L-165.5,-3.6Z"/>
<path d="M-83.6,-3.6 L-90.3,-6.4 L-95.8,-10.0 L-103.1,-12.8 L-110.5,-11.9 L-117.8,-10.0 L-123.3,-6.4 L-125.2,-1.8 L-120.6,1.9 L-114.2,3.7 L-106.8,1.0 L-99.5,-3.6"/>
<path d="M-120.6,-5.5 L-116.0,-7.3 L-113.2,-5.5 L-109.6,-8.2 L-105.0,-7.3"/>
<path d="M-145.3,0.0 L-143.5,3.7 L-138.0,1.9 L-134.3,4.6 L-128.8,2.8 L-127.0,6.5 L-131.6,11.1 L-125.2,9.2 L-119.7,7.4 L-113.2,9.2 L-106.8,7.4 L-102.2,9.2 L-100.4,14.7 L-97.6,9.2 L-95.8,3.7 L-92.1,0.0 L-83.6,-1.8"/>
<path d="M-146.3,1.0 L-147.2,9.2 L-145.3,16.6 L-143.5,23.9 L-138.9,25.7 L-134.3,24.8 L-131.6,27.6 L-125.2,26.7 L-117.8,29.4 L-110.5,25.7 L-106.8,29.4 L-99.5,31.2 L-92.1,30.3 L-83.6,31.2"/>
<path d="M-168.7,-270.1 L-166.5,-270.4 L-173.3,-276.6 L-166.5,-284.6 L-163.1,-291.4 L-158.6,-295.9 L-155.2,-290.2 L-152.3,-282.3 L-153.5,-275.5 L-155.7,-273.2 L-152.9,-271.0 L-150.1,-277.8 L-149.5,-281.7"/>
<path d="M-168.6,135.7 L-171.8,140.2 L-177.5,141.9 L-185.4,139.6 L-193.3,141.9 L-199.0,144.7 L-199.6,148.7 L-207.5,152.7 L-210.3,162.3 L-214.9,166.8 L-216.9,171.1"/>
<path d="M-189.9,30.8 L-179.2,26.9 L-172.9,27.4 L-170.1,32.0 L-172.9,38.8 L-177.5,43.3 L-182.0,37.6 L-186.5,35.4Z"/>
<path d="M-263.6,24.0 L-256.8,22.9 L-253.4,28.6 L-248.9,33.1 L-242.1,36.5 L-236.4,35.4 L-231.9,32.5 L-225.1,34.2 L-218.3,32.0 L-216.0,25.2 L-214.9,16.1"/>
<path d="M-216.0,32.0 L-213.7,37.6 L-208.1,41.6 L-211.5,44.4 L-214.9,49.0 L-219.4,51.2 L-225.1,59.2 L-229.6,67.1 L-234.1,71.6 L-244.3,70.5 L-253.4,72.8 L-257.9,63.7 L-260.2,54.6 L-263.6,54.1"/>
<path d="M-240.4,55.8 L-235.3,52.9 L-228.5,54.1 L-226.2,57.5 L-229.6,60.9 L-235.3,62.0 L-239.2,59.7Z"/>
<path d="M-144.6,16.1 L-143.5,22.9 L-136.7,25.2 L-134.4,28.6 L-126.5,27.4 L-117.4,29.7 L-110.6,26.3 L-106.1,30.8 L-99.3,34.2 L-90.2,35.4 L-82.3,35.9 L-73.2,37.1 L-67.5,30.8 L-68.7,21.8 L-70.9,16.1"/>
<path d="M-82.3,35.9 L-72.1,42.2 L-66.4,47.8 L-60.7,52.4"/>
<path d="M-84.9,-2.4 L-81.2,2.2 L-78.5,6.7 L-80.3,9.5 L-73.9,10.4 L-70.2,15.0 L-67.9,21.4 L-67.0,29.7 L-68.4,35.2 L-72.0,37.5 L-77.5,36.6 L-81.2,34.3 L-84.0,35.6 L-92.2,35.2 L-102.3,34.3 L-106.9,30.6 L-110.6,26.0 L-117.0,29.7 L-122.5,27.4 L-128.0,25.1 L-134.4,24.2 L-137.2,27.8 L-140.8,26.9 L-143.6,24.2"/>
<path d="M-101.2,3.1 L-100.3,8.6 L-102.1,13.6" stroke-width="8"/>
<path d="M171.4,224.5 L168.0,220.0 L162.3,217.7 L162.3,213.2 L175.9,211.5 L177.6,206.4 L169.7,202.4 L170.3,187.7 L174.8,185.4 L179.9,185.4 L177.1,178.6 L171.4,176.4 L167.4,173.0 L165.7,169.0 L158.9,167.3 L169.1,161.6 L173.7,163.9 L173.1,169.6 L177.1,173.0 L182.7,173.0 L185.6,166.7 L181.0,162.8"/>
<path d="M-412.6,173.0 L-422.2,165.6 L-436.9,161.6 L-454.5,155.4 L-455.1,157.1 L-450.5,162.2 L-432.4,167.9 L-425.6,172.4"/>
<path d="M-454.7,156.0 L-450.5,159.4 L-434.7,165.0" stroke-width="6"/>
</g>
<clipPath id="ocean"><path d="M22.0,-496.5 0.0,-497.0 -38.5,-495.5 -66.5,-492.5 -101.5,-486.5 -132.5,-479.0 -163.0,-469.5 -190.5,-459.0 -212.0,-449.5 -238.5,-436.0 -266.5,-419.5 -291.5,-402.5 -321.5,-379.0 -340.0,-362.5 -368.0,-334.0 -392.0,-305.5 -407.5,-284.5 -412.0,-277.0 -400.5,-270.5 -385.0,-264.5 -379.5,-264.0 -373.5,-267.0 -368.0,-267.0 -359.0,-270.5 -355.5,-270.0 -348.0,-274.0 -340.0,-271.5 -339.5,-269.0 -342.0,-266.5 -341.5,-264.5 -333.0,-261.5 -329.0,-256.0 -326.5,-254.5 -318.0,-259.0 -310.0,-254.5 -299.0,-255.0 -292.5,-250.5 -287.0,-250.5 -281.5,-253.0 -273.0,-247.5 -260.0,-246.5 -249.5,-241.5 -236.5,-252.0 -231.0,-254.0 -213.0,-253.0 -198.0,-257.5 -191.0,-263.5 -171.0,-266.0 -168.5,-270.5 -168.5,-272.5 -173.0,-277.0 -166.5,-284.5 -163.5,-291.0 -159.0,-295.5 -155.0,-289.0 -153.5,-284.0 -151.5,-283.0 -150.0,-283.5 -148.5,-292.5 -146.0,-300.0 -151.0,-305.5 -151.0,-315.0 -144.5,-325.5 -143.0,-332.0 -136.5,-342.0 -136.5,-346.5 -130.5,-353.0 -125.5,-354.0 -114.5,-368.5 -102.0,-377.5 -100.5,-375.5 -114.0,-357.5 -124.0,-349.0 -134.0,-328.0 -132.5,-321.0 -132.5,-315.5 -130.5,-314.0 -129.0,-314.5 -124.0,-321.0 -120.5,-319.0 -117.5,-321.0 -115.0,-320.0 -113.5,-320.5 -112.0,-323.0 -106.0,-324.5 -99.0,-312.5 -97.5,-312.0 -91.0,-315.0 -89.0,-315.0 -81.5,-311.0 -79.0,-304.0 -74.5,-300.5 -74.5,-292.5 -77.0,-281.0 -79.5,-279.5 -85.0,-279.0 -88.0,-273.0 -93.0,-271.5 -93.5,-267.0 -91.5,-263.5 -87.5,-263.0 -83.5,-260.0 -81.5,-260.5 -78.0,-264.5 -72.5,-266.5 -65.0,-265.5 -59.0,-260.0 -54.0,-257.0 -70.0,-244.0 -72.0,-247.0 -74.0,-247.5 -79.5,-245.5 -80.0,-243.5 -76.0,-238.5 -69.5,-236.0 -60.5,-229.0 -53.5,-227.5 -53.0,-225.0 -54.5,-222.5 -61.0,-220.0 -64.5,-212.5 -63.5,-203.0 -66.0,-198.0 -74.0,-191.0 -79.5,-183.5 -83.0,-183.5 -88.0,-186.0 -91.0,-185.5 -94.5,-183.0 -101.5,-183.5 -124.5,-176.0 -140.5,-169.5 -155.0,-165.5 -158.0,-154.0 -162.5,-147.0 -165.5,-135.0 -164.0,-130.5 -166.5,-128.5 -171.0,-129.5 -178.5,-129.0 -179.0,-127.0 -175.5,-123.5 -176.0,-121.5 -181.5,-124.5 -183.5,-124.0 -184.5,-120.0 -182.0,-117.0 -184.5,-114.5 -192.5,-111.0 -198.5,-107.0 -205.0,-100.5 -205.5,-98.5 -203.5,-97.0 -199.0,-98.5 -191.0,-98.0 -191.5,-94.0 -195.0,-86.5 -195.0,-83.5 -193.0,-82.0 -190.5,-83.5 -183.0,-97.5 -180.5,-97.0 -180.5,-93.0 -178.5,-91.5 -174.0,-95.5 -172.0,-101.0 -172.5,-111.0 -171.0,-112.0 -158.0,-114.5 -145.5,-100.0 -137.5,-96.0 -141.5,-88.0 -152.0,-78.5 -158.5,-77.0 -162.0,-79.0 -167.5,-78.0 -169.0,-75.0 -168.0,-71.5 -174.0,-69.0 -174.5,-66.0 -171.5,-62.0 -173.0,-59.5 -168.5,-51.0 -169.5,-47.5 -172.0,-46.5 -178.5,-51.0 -197.0,-52.0 -209.0,-44.0 -211.5,-44.0 -214.0,-48.5 -217.5,-49.0 -220.0,-48.0 -222.5,-50.5 -218.0,-59.5 -218.5,-61.5 -220.0,-62.0 -229.0,-59.5 -230.5,-56.0 -236.0,-50.0 -237.0,-36.5 -236.5,-35.5 -231.0,-34.5 -230.5,-31.0 -232.5,-27.5 -238.0,-27.0 -238.5,-25.0 -236.5,-23.0 -235.5,-19.5 -224.5,-17.0 -217.0,-20.5 -213.5,-24.0 -211.0,-25.0 -202.5,-24.0 -197.5,-21.5 -196.0,-22.0 -195.5,-24.5 -197.5,-27.0 -197.5,-33.0 -182.5,-41.0 -179.0,-39.5 -179.0,-36.5 -175.0,-36.5 -171.0,-32.5 -173.5,-28.0 -172.5,-23.5 -176.5,-21.0 -176.0,-19.0 -169.5,-15.0 -169.5,-9.0 -173.5,-3.5 -179.5,-5.5 -184.0,-11.5 -190.5,-14.5 -192.5,-18.0 -194.5,-18.5 -196.0,-18.0 -199.0,-13.5 -205.5,-9.0 -209.0,-7.5 -219.0,-8.0 -221.0,-4.5 -226.5,-2.0 -227.0,0.5 -224.5,2.5 -227.5,5.0 -236.0,6.0 -243.5,10.0 -243.0,12.5 -231.5,17.0 -216.5,17.0 -213.0,15.5 -210.0,4.5 -206.0,1.5 -201.5,3.5 -199.5,2.5 -198.5,0.0 -190.5,-1.5 -185.5,-0.5 -179.0,3.0 -174.0,10.0 -176.5,11.5 -184.0,12.0 -184.5,14.0 -177.0,21.0 -171.0,31.0 -172.0,35.5 -173.5,38.5 -177.5,42.0 -180.5,40.5 -182.0,41.0 -185.5,48.0 -191.5,53.5 -192.0,55.5 -188.5,60.5 -193.0,66.5 -197.0,77.0 -206.5,86.5 -213.0,86.5 -221.0,110.5 -220.0,116.5 -221.0,117.5 -229.0,119.5 -241.0,116.0 -235.5,103.5 -236.0,98.0 -237.0,96.5 -239.0,96.0 -242.5,98.0 -247.0,106.5 -256.5,120.0 -267.5,124.0 -268.0,122.5 -265.5,111.0 -266.0,106.5 -267.5,106.0 -270.5,107.5 -277.0,120.5 -278.0,118.0 -279.0,101.5 -276.0,90.5 -270.0,88.0 -265.5,80.5 -263.0,73.0 -264.0,70.5 -268.5,68.5 -271.5,61.5 -271.5,59.5 -268.0,54.0 -266.0,55.0 -263.5,54.0 -260.5,55.0 -258.5,63.5 -254.0,72.0 -252.0,72.5 -245.5,70.5 -235.0,71.5 -229.5,67.0 -227.5,62.0 -229.5,60.5 -236.0,61.5 -239.5,58.5 -240.0,56.0 -235.5,53.0 -228.5,54.0 -226.5,57.0 -223.5,57.0 -220.0,52.0 -216.0,49.5 -214.5,44.5 -210.5,41.0 -211.0,39.0 -214.0,36.5 -215.5,33.0 -217.5,32.0 -220.5,32.0 -228.0,34.5 -233.5,33.0 -238.5,35.5 -243.5,36.0 -248.5,33.0 -254.0,27.5 -256.5,23.0 -259.0,22.5 -264.5,24.5 -270.0,37.0 -271.5,38.5 -276.0,39.5 -276.0,44.5 -279.5,48.5 -283.5,45.5 -278.0,32.5 -290.5,22.5 -286.5,20.5 -286.0,14.0 -277.0,17.0 -268.0,18.5 -264.0,18.0 -264.0,15.0 -279.0,7.0 -281.5,-1.0 -285.5,-5.0 -291.5,-6.5 -294.0,-12.5 -301.0,-18.5 -314.5,-25.5 -320.0,-27.0 -336.0,-29.0 -338.0,-27.5 -340.0,-20.5 -359.0,-16.0 -359.5,-14.0 -358.0,-4.5 -362.0,7.0 -372.0,15.5 -374.5,23.5 -379.0,32.5 -378.0,39.0 -378.5,50.0 -379.5,51.0 -390.0,51.0 -402.0,55.0 -411.5,60.5 -421.0,73.0 -421.5,75.5 -418.0,81.0 -415.0,82.0 -404.0,82.5 -388.0,76.0 -381.0,68.5 -374.0,77.5 -365.0,84.0 -355.0,86.0 -347.5,83.5 -339.0,76.5 -332.5,67.0 -319.0,70.5 -296.0,61.5 -290.0,65.0 -290.5,76.0 -287.0,83.0 -292.0,94.0 -297.0,99.5 -293.5,108.5 -302.0,110.5 -316.0,117.5 -315.5,126.0 -320.0,131.0 -319.5,133.5 -314.0,138.5 -311.5,139.5 -291.5,138.0 -317.0,171.0 -323.5,173.0 -325.0,174.5 -329.0,192.5 -329.0,196.0 -325.5,204.0 -327.5,210.0 -333.5,216.5 -332.0,223.0 -345.0,234.0 -348.5,234.0 -348.5,238.0 -349.5,239.0 -363.5,241.5 -364.5,244.5 -368.0,248.0 -368.0,251.0 -365.0,252.5 -367.5,255.0 -368.0,258.5 -367.5,259.5 -362.5,261.0 -362.5,269.5 -367.0,271.0 -367.5,273.0 -366.0,275.0 -370.0,279.0 -374.0,286.0 -384.5,290.5 -387.0,289.0 -388.5,281.5 -382.0,279.5 -381.0,276.0 -383.0,274.5 -389.5,274.5 -396.5,270.5 -397.5,268.5 -391.5,266.5 -391.0,263.5 -393.0,259.0 -402.0,246.5 -404.5,240.0 -397.5,238.0 -394.5,234.5 -377.5,236.0 -356.0,232.5 -355.5,230.5 -366.5,222.5 -378.5,219.5 -388.0,208.5 -395.5,187.5 -402.0,176.5 -416.5,171.0 -417.5,168.5 -422.5,165.0 -433.0,162.0 -435.0,163.5 -433.5,167.5 -426.5,172.0 -425.0,174.5 -421.0,176.5 -414.0,183.0 -410.0,190.0 -413.0,199.0 -422.5,195.5 -430.5,200.5 -432.0,202.5 -430.5,210.0 -435.0,214.5 -435.5,221.0 -433.0,226.0 -428.5,228.0 -428.0,234.0 -417.5,235.5 -423.5,241.0 -425.0,246.5 -432.5,244.5 -407.5,284.5 -379.0,321.5 -362.5,340.0 -340.0,362.5 -315.5,384.0 -284.5,407.5 -250.0,429.5 -212.0,449.5 -178.0,464.0 -139.5,477.0 -101.5,486.5 -66.5,492.5 -22.0,496.5 -11.0,496.5 -11.0,490.5 -17.5,480.0 -24.0,472.0 -36.5,465.0 -36.5,458.5 -27.0,455.5 -15.0,458.0 -13.5,457.5 -13.0,446.5 -8.5,449.5 -5.0,448.5 11.0,439.5 12.5,430.0 24.0,426.0 27.0,424.0 31.0,417.5 33.5,406.0 35.5,403.0 47.0,396.0 56.5,395.5 59.5,390.0 59.0,380.0 54.0,372.0 51.5,361.5 55.0,354.0 60.5,352.0 63.5,348.5 64.5,356.0 67.5,361.5 64.0,368.5 66.0,377.0 67.5,379.0 72.5,381.5 74.0,385.0 75.5,385.5 84.5,379.5 96.5,384.5 98.5,384.0 117.5,366.5 124.5,369.0 130.5,367.0 132.5,360.0 138.0,355.5 138.5,353.5 133.0,344.0 131.5,332.0 135.0,325.5 141.5,330.5 147.0,328.5 147.5,325.5 143.5,314.0 140.5,313.5 138.0,314.5 134.5,307.5 143.5,297.5 151.5,295.0 157.0,291.5 158.5,284.5 155.0,282.5 150.0,282.0 143.0,285.0 126.5,299.5 116.5,293.0 114.5,285.5 108.5,274.0 110.0,256.5 115.0,243.5 114.5,240.0 112.5,238.0 104.5,236.0 99.0,240.0 98.0,250.0 100.5,257.5 97.5,267.0 90.5,280.5 91.5,295.5 104.0,307.5 103.5,321.0 99.0,325.0 102.5,346.0 102.0,352.5 100.5,355.5 93.5,357.0 91.0,368.0 86.5,369.5 83.5,368.0 82.0,368.5 80.0,374.0 74.5,372.5 71.5,368.0 78.0,363.0 80.0,364.0 82.0,363.5 82.5,361.5 74.5,350.0 68.5,338.0 61.5,328.5 58.0,328.5 51.0,338.5 43.0,343.5 40.0,342.0 33.0,335.5 27.0,301.5 31.0,292.5 44.5,281.0 52.0,267.5 57.0,249.0 60.5,230.5 70.0,205.5 76.5,197.0 83.5,194.0 84.5,185.0 95.5,177.5 109.0,179.0 108.5,184.5 111.5,186.5 114.0,186.0 115.5,183.0 124.0,184.0 134.5,180.0 146.5,180.0 158.0,182.0 163.0,189.5 163.0,196.5 158.5,202.5 141.0,208.5 140.5,210.5 141.5,212.0 149.5,214.5 158.5,225.5 161.5,226.0 169.5,224.5 170.0,222.5 169.0,220.5 162.5,217.0 162.5,213.5 176.0,211.0 177.0,208.5 176.5,205.5 169.5,201.5 170.0,189.5 171.5,187.0 178.5,185.0 179.0,182.5 177.0,178.0 171.5,176.0 167.0,172.0 165.5,168.5 158.5,166.5 165.0,161.5 170.5,160.5 173.0,164.0 172.5,169.0 175.0,172.0 180.5,173.0 184.0,170.0 184.5,166.5 180.0,161.5 183.0,138.5 186.5,134.5 188.0,138.0 190.0,138.5 192.5,137.0 193.0,134.5 192.0,131.5 195.5,126.0 195.5,118.5 202.0,116.5 202.5,115.5 200.0,110.0 192.5,109.5 188.5,105.5 194.5,99.0 202.0,93.5 218.0,87.0 218.5,86.0 218.0,84.0 213.5,81.0 205.0,81.0 200.5,83.0 189.5,81.0 181.5,74.5 176.5,67.0 171.5,64.5 171.5,62.0 178.0,58.0 180.0,58.0 188.5,61.5 212.5,67.5 216.0,67.5 224.5,65.0 225.0,63.0 223.5,61.0 218.5,58.5 216.5,59.0 213.0,62.5 200.0,55.0 189.5,57.0 181.0,50.0 181.0,49.0 186.5,49.5 188.5,48.0 187.0,39.5 188.5,33.5 190.5,31.0 190.0,29.0 179.5,29.5 174.0,27.5 173.0,26.5 173.0,13.0 171.5,10.0 159.0,2.0 152.0,-9.0 147.0,-21.0 142.0,-27.0 128.5,-32.5 134.5,-37.0 137.5,-42.0 133.5,-51.0 136.5,-60.0 143.5,-63.5 158.0,-58.5 159.5,-59.0 160.0,-62.0 157.5,-67.0 162.0,-67.0 164.0,-70.0 164.0,-72.0 159.5,-80.0 158.0,-89.0 153.0,-99.5 151.0,-100.0 147.0,-98.0 141.5,-108.5 143.0,-115.0 151.5,-121.0 155.5,-128.0 155.5,-135.5 153.5,-136.0 147.0,-134.5 141.0,-139.5 136.5,-146.5 133.0,-147.0 128.0,-151.0 126.0,-150.0 122.0,-143.5 116.0,-143.5 106.5,-157.0 98.5,-165.0 96.5,-169.0 97.5,-172.0 94.0,-181.5 82.5,-184.5 74.0,-190.0 72.0,-196.5 74.5,-204.0 72.0,-208.0 64.5,-209.0 55.5,-213.5 45.5,-215.5 42.0,-224.0 40.5,-224.5 37.0,-223.5 35.0,-211.5 21.0,-217.0 10.0,-218.5 -0.5,-226.0 -22.0,-247.5 -22.5,-249.5 -25.5,-249.5 -26.5,-246.0 -36.5,-246.0 -46.0,-255.5 -41.0,-261.0 -34.5,-263.5 -34.0,-266.0 -36.5,-274.0 -33.0,-276.5 -29.0,-276.0 -23.5,-271.5 -18.5,-270.0 -14.5,-265.5 -7.5,-265.5 -5.5,-260.5 -3.5,-259.5 -2.0,-260.0 -1.0,-262.5 -2.5,-266.5 1.5,-271.5 4.0,-273.5 9.0,-273.5 11.0,-275.0 11.0,-277.0 3.0,-294.5 3.5,-298.5 5.0,-299.5 12.5,-297.0 34.0,-306.5 54.0,-319.5 55.0,-321.5 59.0,-316.0 61.5,-314.5 77.0,-319.0 78.5,-316.5 80.0,-316.0 85.5,-317.0 90.5,-315.0 93.5,-315.5 96.0,-320.0 108.5,-330.5 108.0,-334.5 102.0,-339.0 106.5,-352.5 113.5,-353.0 115.5,-354.0 119.5,-362.0 118.5,-366.5 131.5,-369.0 139.0,-380.5 149.0,-380.0 157.5,-390.5 168.0,-395.5 169.0,-395.0 161.5,-350.5 154.0,-337.0 147.5,-330.0 141.0,-327.0 137.0,-323.5 127.0,-323.5 88.5,-301.5 80.5,-288.5 81.0,-286.0 82.5,-285.5 86.0,-286.0 91.0,-293.0 107.5,-299.5 108.5,-287.0 122.5,-285.0 142.5,-295.5 143.0,-304.5 149.5,-304.5 161.0,-299.5 161.0,-293.0 166.0,-286.5 169.5,-285.5 171.5,-287.0 175.5,-287.0 187.5,-277.0 205.5,-267.0 234.0,-272.5 270.5,-274.5 271.0,-276.5 267.0,-282.5 269.5,-290.5 266.0,-296.0 263.0,-296.5 258.0,-295.5 253.0,-301.0 252.5,-316.0 242.5,-316.5 240.0,-315.5 243.5,-328.5 251.0,-338.0 257.5,-350.5 262.5,-370.0 264.0,-369.5 269.0,-362.5 272.5,-362.5 283.0,-370.0 286.0,-386.0 291.0,-392.0 292.0,-385.5 295.0,-385.0 299.5,-387.0 301.0,-386.5 282.0,-361.0 270.0,-349.0 264.5,-342.0 261.0,-330.5 261.0,-328.0 263.0,-326.5 271.5,-330.0 284.5,-344.5 296.5,-354.5 316.5,-359.5 324.5,-364.0 336.5,-365.5 305.5,-392.0 266.5,-419.5 232.0,-439.5 190.5,-459.0 151.0,-473.5 108.5,-485.0 66.5,-492.5ZM-45.0,379.0 -39.0,388.0 -42.5,394.5 -41.5,403.5 -49.0,413.5 -62.5,418.5 -71.5,415.5 -72.5,414.0 -65.0,403.5 -67.5,390.5 -50.5,379.0ZM-18.5,340.5 -18.0,341.5 -21.5,349.0 -21.0,351.5 -12.0,352.5 -11.5,353.5 -14.5,362.5 -18.0,367.5 -19.0,371.0 -13.5,374.0 -7.5,388.5 -3.0,391.5 2.5,407.5 11.5,410.5 11.5,418.0 8.5,421.0 10.5,428.0 3.5,432.0 -7.5,432.0 -18.0,435.5 -23.5,433.5 -29.0,438.5 -36.0,437.0 -40.5,440.0 -43.0,437.5 -29.5,425.5 -30.0,423.0 -35.0,421.5 -38.0,417.0 -31.5,413.5 -33.5,407.5 -32.5,401.0 -31.5,399.5 -22.0,400.0 -20.0,395.5 -24.0,388.5 -32.5,385.5 -37.5,378.0 -36.5,368.5 -39.0,360.0 -36.0,350.0 -30.0,340.0ZM-108.5,239.5 -103.5,234.5 -95.5,235.5 -92.5,243.5 -91.0,244.0 -83.5,242.0 -79.0,245.0 -70.5,242.5 -64.0,245.5 -66.0,253.0 -63.0,259.5 -70.5,266.5 -91.5,271.5 -108.5,260.0 -103.5,257.5 -102.5,256.0 -104.5,252.0 -109.0,248.0 -105.0,245.0 -105.5,243.0ZM-400.0,192.5 -397.0,199.0 -397.0,209.0 -399.5,213.5 -402.0,208.5 -402.5,196.5ZM44.5,91.5 49.0,96.0 48.5,101.5 43.0,104.0 36.5,102.0 35.0,102.5 34.5,104.5 35.5,106.5 42.5,111.0 44.0,116.0 45.5,116.5 49.5,115.0 52.5,116.5 53.5,118.5 51.5,123.0 47.5,122.5 45.0,119.0 42.0,119.0 40.0,124.0 42.0,131.5 38.0,135.5 31.5,130.5 33.0,125.0 26.0,119.5 20.5,108.0 25.0,103.5 31.5,100.0 32.5,97.0 38.0,91.5ZM73.5,61.5 78.0,62.0 79.0,64.0 79.5,69.0 75.5,71.5 70.0,67.5ZM129.0,52.0 134.0,51.5 135.0,52.5 137.5,62.5 139.0,75.0 143.0,85.0 153.5,102.5 161.0,109.0 172.5,111.5 174.0,111.0 173.0,117.5 172.0,118.5 169.0,117.0 158.5,122.0 151.5,119.5 148.5,112.5 143.0,105.5 132.5,86.0 132.5,74.5 129.5,62.0ZM-295.0,53.0 -297.5,56.5 -301.0,56.5 -302.5,54.5 -298.5,50.5ZM-297.0,30.5 -291.0,35.5 -291.5,41.0 -295.0,39.5 -300.0,33.0ZM-84.5,-4.0 -83.5,0.0 -79.0,6.5 -79.0,9.5 -75.0,10.0 -70.5,15.0 -68.5,20.5 -67.5,28.0 -68.5,34.0 -71.5,36.5 -75.5,37.5 -75.5,40.5 -60.5,53.5 -53.0,55.0 -44.0,54.0 -37.0,58.5 -31.5,64.0 -29.0,70.5 -33.0,74.0 -36.0,75.0 -36.0,78.0 -31.0,83.5 -29.0,84.0 -24.5,82.5 -20.0,87.0 -22.5,91.5 -29.5,96.5 -33.5,97.5 -33.5,101.0 -37.0,106.0 -42.0,117.0 -44.0,129.0 -52.5,134.0 -52.0,143.0 -56.0,149.5 -54.5,156.5 -61.5,156.5 -65.5,161.5 -72.0,164.5 -76.0,169.0 -76.5,172.0 -74.5,182.0 -77.0,191.5 -78.0,192.5 -84.0,191.5 -86.0,193.0 -85.5,195.0 -82.0,197.5 -107.0,204.5 -120.5,201.0 -129.0,200.0 -141.5,206.5 -156.0,207.0 -167.5,203.0 -170.0,203.0 -178.0,206.0 -188.5,214.5 -201.0,216.0 -208.0,226.0 -223.5,235.5 -229.5,230.0 -229.0,219.0 -236.0,210.0 -235.5,204.0 -227.5,191.5 -223.5,179.5 -218.5,173.5 -215.5,167.5 -210.5,162.5 -208.0,154.0 -206.5,152.0 -200.0,149.0 -199.0,145.0 -193.0,141.5 -185.0,139.5 -177.5,142.0 -171.5,140.0 -168.0,135.0 -162.5,132.5 -160.5,123.5 -160.5,120.0 -164.0,114.5 -162.5,110.5 -152.0,107.0 -136.5,84.5 -130.0,78.0 -131.0,69.0 -138.0,53.5 -130.5,44.5 -127.5,48.0 -124.5,48.0 -120.0,36.0 -114.5,38.0 -104.0,45.5 -97.0,40.5 -89.5,42.0 -81.0,42.0 -78.0,40.0 -78.5,37.5 -82.5,35.5 -102.0,34.0 -111.0,26.5 -117.0,29.0 -126.0,27.0 -134.5,28.0 -140.5,26.5 -143.5,23.5 -147.0,10.0 -146.0,0.5 -143.0,3.0 -138.5,2.0 -134.0,4.5 -129.5,3.0 -127.5,6.0 -127.5,9.0 -126.0,9.5 -121.0,7.5 -114.5,9.0 -106.5,7.5 -102.5,9.0 -100.5,7.5 -100.5,3.0 -95.0,3.0 -91.0,-0.5 -85.5,-1.5ZM-100.5,-4.0 -107.0,0.5 -113.5,3.0 -119.5,2.0 -125.0,-2.5 -123.5,-6.0 -118.0,-10.0 -107.5,-12.5 -104.0,-12.0 -105.0,-7.5ZM-139.0,-15.5 -138.5,-14.5 -139.5,-12.5 -150.0,-4.5 -153.0,-0.5 -154.0,2.5 -153.5,21.0 -154.5,23.5 -158.5,26.0 -162.0,23.0 -162.5,16.5 -165.5,10.0 -167.0,3.0 -165.5,-3.5 -161.5,-9.0 -164.0,-14.5 -160.5,-18.0 -155.5,-18.0 -153.0,-15.5 -154.0,-13.0 -153.5,-11.0 -150.5,-10.5 -145.0,-12.0ZM122.5,-32.0 126.0,-22.5 120.5,-18.5 117.5,-12.0 111.0,-5.5 103.5,-2.5 96.5,-4.5 93.0,-10.0 112.5,-23.5 117.0,-31.5ZM-113.0,-32.0 -111.5,-29.5 -121.5,-21.0 -121.0,-19.0 -118.0,-17.5 -119.5,-15.0 -126.5,-12.0 -130.0,-9.0 -132.0,-10.0 -132.5,-11.0 -131.0,-15.0 -123.0,-18.5 -123.0,-21.5 -125.5,-22.0 -126.5,-23.5 -121.0,-31.5 -116.0,-31.0ZM-158.0,-29.0 -152.5,-30.5 -150.5,-33.5 -143.5,-33.0 -140.5,-25.0 -144.0,-22.0 -153.5,-22.0 -158.0,-24.5ZM-211.5,-31.5 -216.5,-26.0 -222.0,-24.5 -226.5,-26.0 -219.0,-37.0ZM-113.5,-47.5 -110.0,-45.0 -112.5,-42.0 -113.5,-42.0 -116.0,-45.5ZM-140.0,-73.0 -135.5,-69.5 -131.5,-64.5 -134.5,-60.5 -145.5,-55.5 -146.5,-53.0 -144.5,-51.5 -138.0,-51.5 -135.0,-49.5 -134.5,-48.0 -136.5,-46.0 -141.5,-45.0 -144.0,-42.0 -149.0,-42.5 -153.5,-45.5 -152.0,-60.0 -153.5,-66.0 -148.0,-68.0 -144.5,-72.0ZM-127.0,-80.0 -124.0,-80.5 -119.5,-74.0 -117.5,-68.5 -118.0,-61.5 -121.5,-61.0 -126.5,-65.5 -128.0,-71.5ZM82.5,-141.0 91.5,-129.5 107.0,-124.5 108.0,-123.5 107.0,-116.5 101.0,-111.0 96.0,-114.0 87.0,-132.0 82.0,-135.5 78.5,-139.5ZM109.0,-143.0 113.0,-139.0 110.5,-134.5 107.0,-136.0 106.0,-140.5ZM4.0,-204.5 4.0,-202.5 -0.5,-197.5 -4.5,-198.0 -8.5,-201.5 -2.0,-205.5 3.0,-206.0ZM-313.0,-276.0 -312.0,-277.0 -306.0,-277.0 -294.0,-275.5 -289.0,-273.0 -286.5,-269.5 -294.0,-262.5 -302.0,-272.5 -310.0,-273.5 -312.5,-274.5ZM-57.0,-284.5 -53.0,-288.0 -45.0,-285.5 -42.0,-285.5 -41.0,-283.0 -42.0,-281.0 -53.0,-281.5ZM-71.0,-317.5 -74.5,-313.5 -77.5,-313.0 -80.0,-316.0 -75.5,-319.5ZM-157.5,-327.0 -154.0,-324.5 -155.5,-317.0 -159.0,-311.5 -163.5,-312.0 -165.5,-314.5 -163.5,-321.5 -161.5,-325.0Z" clip-rule="evenodd"/></clipPath>
<filter id="blur5" x="-600" y="-600" width="1200" height="1200" filterUnits="userSpaceOnUse" color-interpolation-filters="sRGB"><feGaussianBlur stdDeviation="5.2"/></filter>
<filter id="erode" x="-600" y="-600" width="1200" height="1200" filterUnits="userSpaceOnUse" color-interpolation-filters="sRGB"><feMorphology operator="erode" radius="7"/></filter>
<filter id="cmap" x="-600" y="-600" width="1200" height="1200" filterUnits="userSpaceOnUse" color-interpolation-filters="sRGB">
<feComponentTransfer><feFuncR type="discrete" tableValues="0.9745 0.9863 0.9902 0.9745 0.9510 0.8961 0.8451 0.7785 0.7196 0.6020 0.4647"/><feFuncG type="discrete" tableValues="0.9471 0.8961 0.8295 0.7353 0.6334 0.5040 0.3902 0.2569 0.1353 0.0647 0.0216"/><feFuncB type="discrete" tableValues="0.9314 0.8412 0.7393 0.6216 0.5000 0.4020 0.3118 0.2451 0.1902 0.1549 0.1314"/></feComponentTransfer></filter>
<g id="ice" clip-path="url(#clipf)">
<g filter="url(#cmap)"><rect x="-520" y="-520" width="1040" height="1040" fill="#000"/>
<g filter="url(#blur5)"><g clip-path="url(#ocean)">
<path d="M254.7,-422.2 281.9,-409.6 299.4,-397.9 305.2,-390.2 280.0,-366.9 260.6,-328.0 256.7,-312.5 272.2,-295.0 276.1,-271.7 206.2,-261.9 167.3,-285.3 140.1,-302.7 122.6,-283.3 105.1,-285.3 105.1,-302.7 85.7,-291.1 85.7,-316.3 124.6,-318.3 142.0,-324.1 159.5,-329.9 179.0,-339.7 198.4,-345.5 206.2,-359.1 217.8,-376.6 233.4,-390.2 248.9,-409.6Z" fill="rgb(38,38,38)"/>
<path d="M-440.4,188.6 -415.2,178.8 -399.6,194.4 -380.2,217.7 -351.0,235.2 -362.7,250.7 -386.0,239.1 -405.4,239.1 -424.9,246.8 -444.3,227.4Z" fill="rgb(38,38,38)"/>
<path d="M54.2,-325.2 78.4,-325.2 94.5,-335.2 106.5,-359.4 118.6,-363.4 110.6,-339.3 104.5,-327.2 90.4,-315.1 74.4,-313.1 56.2,-315.1Z" fill="rgb(38,38,38)"/>
<path d="M-133.8,-325.2 -118.3,-333.0 -98.9,-338.8 -69.7,-344.2 -44.5,-343.3 -21.2,-336.9 -1.7,-328.1 13.8,-320.9 29.3,-321.9 44.9,-326.8 56.5,-325.2 76.0,-320.3 93.5,-331.0 105.7,-348.5 97.4,-355.2 107.1,-359.1 111.0,-347.4 97.4,-328.0 85.7,-324.1 95.4,-288.3 37.1,-294.1 4.1,-294.1 -1.7,-259.1 -30.9,-239.7 -60.0,-237.8 -89.2,-249.4 -98.9,-278.6 -98.9,-309.7 -128.0,-313.5Z" fill="rgb(51,51,51)"/>
<path d="M-250.0,157.5 -269.4,169.1 -281.1,188.6 -292.8,211.9 -304.4,231.3 -320.0,254.6 -339.4,274.0 -358.8,283.8 -370.5,266.3 -351.0,239.1 -335.5,208.0 -327.7,173.0 -300.5,140.0Z" fill="rgb(51,51,51)"/>
<path d="M24.2,116.7 10.6,130.3 -1.0,145.8 -16.6,161.4 -32.1,173.0 -55.4,198.3 -74.9,215.8 -94.3,221.6 -114.0,231.3 -152.9,227.4 -182.0,221.6 -207.3,227.4 -215.1,215.8 -172.3,198.3 -125.7,194.4 -94.4,184.7 -94.3,184.7 -74.9,159.4 -59.3,138.1 -43.8,110.9 -36.0,83.7 -6.9,83.7Z" fill="rgb(51,51,51)"/>
<path d="M39.8,145.8 49.5,155.5 61.1,157.5 74.7,141.9 90.3,132.2 109.7,122.5 129.1,120.6 138.8,130.3 144.7,149.7 150.5,169.1 158.3,182.7 166.0,186.6 181.6,178.8 197.1,149.7 201.0,110.9 193.2,95.3 181.6,83.7 131.1,52.6 80.6,79.8 41.7,101.1Z" fill="rgb(51,51,51)"/>
<path d="M-47.8,192.1 -57.9,218.1 -86.0,230.3 -114.2,232.3 -134.2,229.2 -162.6,225.5 -185.9,219.6 -207.3,227.4 -215.1,215.8 -172.3,198.3 -125.7,192.4 -94.4,182.7 -65.5,178.8Z" fill="rgb(51,51,51)"/>
<path d="M100.0,239.1 111.6,239.1 113.6,256.6 107.8,270.2 100.0,266.3 98.0,250.7Z" fill="rgb(64,64,64)"/>
<path d="M84.4,-335.2 96.5,-343.3 104.5,-335.2 96.5,-323.2 86.4,-323.2Z" fill="rgb(76,76,76)"/>
<path d="M272.2,-405.7 260.6,-396.0 245.0,-382.4 233.4,-366.9 225.6,-351.3 213.9,-335.8 194.5,-328.0 171.2,-320.2 149.8,-314.4 124.6,-308.6 111.0,-300.8 111.0,-283.3 140.1,-302.7 167.3,-285.3 206.2,-261.9 276.1,-271.7 272.2,-295.0 256.7,-312.5 260.6,-328.0 280.0,-366.9 291.6,-390.2Z" fill="rgb(89,89,89)"/>
<path d="M129.1,91.4 138.8,110.9 150.5,122.5 155.3,140.0 160.2,159.4 167.0,178.8 181.6,178.8 197.1,149.7 201.0,110.9 193.2,95.3 185.5,83.7 176.7,90.5 166.0,96.3 156.3,90.5 146.6,85.6Z" fill="rgb(102,102,102)"/>
<path d="M100.0,238.1 111.6,238.1 113.2,251.7 100.0,251.7Z" fill="rgb(102,102,102)"/>
<path d="M125.2,89.5 134.9,110.9 146.6,124.5 156.3,116.7 148.5,101.1 138.8,83.7 131.1,72.0Z" fill="rgb(102,102,102)"/>
<path d="M-57.9,194.0 -65.8,214.2 -90.1,224.3 -114.2,226.3 -134.2,223.1 -156.8,219.6 -176.2,211.9 -168.4,196.3 -125.7,192.4 -94.4,182.7 -65.5,178.8Z" fill="rgb(115,115,115)"/>
<path d="M-79.4,-307.7 -73.6,-317.4 -60.0,-324.2 -40.6,-323.3 -21.2,-318.4 -3.7,-312.6 7.0,-303.8 17.7,-278.6 -1.7,-259.1 -30.9,-239.7 -60.0,-237.8 -89.2,-249.4 -89.2,-288.3Z" fill="rgb(128,128,128)"/>
<path d="M260.6,-382.4 250.8,-372.7 241.1,-359.1 235.3,-343.5 225.6,-324.1 210.0,-312.5 186.7,-308.6 167.3,-302.7 186.7,-279.4 206.2,-261.9 276.1,-271.7 272.2,-295.0 256.7,-312.5 252.8,-347.4 262.5,-370.7Z" fill="rgb(128,128,128)"/>
<path d="M-273.3,159.4 -285.0,180.8 -296.6,200.2 -308.3,219.6 -320.0,235.2 -335.5,250.7 -351.0,239.1 -335.5,208.0 -327.7,173.0 -300.5,140.0Z" fill="rgb(128,128,128)"/>
<path d="M22.3,110.9 6.7,122.5 -6.9,138.1 -22.4,155.5 -39.9,165.2 -61.3,186.6 -78.8,202.2 -94.3,209.9 -114.0,219.6 -133.5,217.7 -145.1,208.0 -125.7,194.4 -94.4,184.7 -94.3,184.7 -74.9,159.4 -59.3,138.1 -43.8,110.9 -36.0,83.7 -6.9,83.7Z" fill="rgb(128,128,128)"/>
<path d="M39.8,138.1 49.5,147.8 61.1,149.7 70.8,134.2 86.4,122.5 100.0,110.9 109.7,103.1 119.4,95.3 129.1,89.5 131.1,52.6 80.6,79.8 41.7,101.1Z" fill="rgb(128,128,128)"/>
<path d="M227.3,-323.2 235.3,-351.3 247.4,-369.4 257.5,-373.5 261.5,-359.4 255.4,-335.2 245.4,-315.1 233.3,-303.0Z" fill="rgb(140,140,140)"/>
<path d="M-68.0,198.1 -74.0,210.1 -94.0,218.1 -114.2,220.2 -134.2,216.2 -152.9,213.8 -168.4,208.0 -168.4,196.3 -125.7,192.4 -94.4,182.7 -65.5,178.8Z" fill="rgb(168,168,168)"/>
<path d="M-27.0,-298.0 -13.4,-302.9 -1.7,-298.0 2.1,-282.5 -3.7,-268.9 -15.3,-274.7 -23.1,-286.3Z" fill="rgb(178,178,178)"/>
<path d="M-62.9,-286.3 -54.2,-278.6 -45.4,-263.0 -40.6,-244.6 -60.0,-239.7 -67.8,-259.1 -69.7,-278.6Z" fill="rgb(178,178,178)"/>
<path d="M229.5,-310.5 237.2,-316.3 250.8,-312.5 256.7,-298.9 260.6,-285.3 250.8,-283.3 237.2,-291.1 227.5,-300.8Z" fill="rgb(178,178,178)"/>
<path d="M-288.9,141.9 -269.4,149.7 -288.9,169.1 -304.4,186.6 -316.1,184.7 -320.0,169.1 -304.4,141.9Z" fill="rgb(178,178,178)"/>
<path d="M-133.5,208.0 -121.8,206.0 -114.0,211.9 -123.7,215.8Z" fill="rgb(178,178,178)"/>
<path d="M39.8,132.2 49.5,138.1 59.2,136.1 67.0,122.5 80.6,110.9 92.2,101.1 103.9,91.4 115.5,79.8 125.2,72.0 129.1,52.6 100.0,60.3 80.6,79.8 61.1,107.0 41.7,101.1Z" fill="rgb(204,204,204)"/>
<path d="M154.4,87.5 158.3,103.1 173.8,107.9 187.4,97.3 185.5,79.8 176.7,90.5 166.0,96.3 156.3,90.5Z" fill="rgb(204,204,204)"/>
<path d="M-54.2,-249.4 -38.6,-251.4 -17.3,-241.7 35.6,-243.1 83.1,-201.6 118.7,-165.9 169.2,-142.2 175.1,-82.8 151.3,-41.3 169.2,0.3 198.8,35.9 185.5,60.3 183.5,79.8 177.7,99.2 166.0,105.0 155.3,99.2 146.6,83.7 136.9,68.1 132.0,54.5 129.1,58.4 117.5,62.3 103.9,71.0 97.1,79.8 89.3,86.6 90.3,95.3 79.6,107.9 61.1,117.7 51.4,114.7 49.5,101.1 41.7,101.1 30.0,110.9 22.3,110.9 12.6,114.7 2.8,125.4 -6.9,135.1 -21.4,148.7 -36.0,153.6 -51.6,154.6 -65.2,130.3 -74.9,91.4 -82.6,56.5 -104.3,44.8 -114.0,52.6 -131.5,72.0 -139.3,91.4 -154.8,107.0 -174.3,119.6 -194.7,123.5 -208.3,110.9 -199.5,72.0 -195.6,23.4 -211.2,2.1 -234.5,0.1 -250.0,-25.1 -250.0,-48.5 -255.3,-29.4 -255.3,-82.8 -225.6,-109.6 -195.9,-127.4 -178.1,-160.0 -154.4,-171.9 -118.8,-183.8 -71.3,-198.6 -59.4,-225.3 -79.4,-193.1 -63.9,-224.2 -58.1,-247.5Z" fill="rgb(219,219,219)"/>
<path d="M-432.6,72.0 -405.4,52.6 -380.2,19.5 -362.7,-19.3 -337.4,-36.8 -308.3,-25.1 -285.0,-11.5 -259.7,13.7 -250.0,-5.7 -220.9,-5.7 -203.4,17.6 -205.3,44.8 -220.9,75.9 -250.0,91.4 -269.4,110.9 -275.3,132.2 -292.8,140.0 -308.3,120.6 -304.4,91.4 -320.0,75.9 -343.3,89.5 -366.6,91.4 -395.7,89.5 -421.0,87.5Z" fill="rgb(222,222,222)"/>
<path d="M-114.0,44.8 -125.7,64.2 -129.6,87.5 -147.1,107.0 -164.5,120.6 -182.0,132.2 -203.4,143.9 -230.6,149.7 -259.7,152.6 -283.0,159.4 -294.7,175.0 -312.2,165.2 -308.3,130.3 -269.4,110.9 -220.9,75.9 -199.5,33.1 -182.0,13.7 -152.9,9.8 -133.5,23.4Z" fill="rgb(222,222,222)"/>
<path d="M22.3,108.9 17.4,110.9 6.7,122.5 -4.9,136.1 -22.4,153.6 -41.8,164.3 -61.3,179.8 -78.8,197.3 -94.3,208.0 -110.1,215.8 -125.7,212.8 -133.5,204.1 -125.7,194.4 -94.4,184.7 -94.3,184.7 -74.9,159.4 -59.3,138.1 -43.8,110.9 -36.0,83.7 -6.9,83.7Z" fill="rgb(230,230,230)"/>
<path d="M-237.5,-118.5 -166.2,-148.1 -118.8,-118.5 -83.1,-59.1 -59.4,0.3 -65.3,35.9 -118.8,47.8 -178.1,59.6 -225.6,35.9 -255.3,-11.6 -255.3,-82.8Z" fill="rgb(237,237,237)"/>
<path d="M-366.6,52.6 -360.8,17.6 -343.3,-3.8 -323.8,-9.6 -308.3,0.1 -300.5,17.6 -304.4,37.0 -300.5,48.7 -320.0,60.3 -343.3,64.2Z" fill="rgb(255,255,255)"/>
<path d="M-263.6,40.9 -250.0,37.0 -230.6,39.0 -215.1,44.8 -220.9,56.5 -242.2,52.6 -257.8,52.6Z" fill="rgb(255,255,255)"/>
<path d="M-133.5,44.8 -135.4,72.0 -143.2,91.4 -156.8,107.0 -176.2,118.6 -195.6,122.5 -207.3,110.9 -201.5,87.5 -185.9,60.3 -168.4,40.9 -149.0,33.1Z" fill="rgb(255,255,255)"/>
</g>
<g filter="url(#erode)"><g clip-path="url(#ocean)">
<path d="M-54.2,-249.4 -38.6,-251.4 -17.3,-241.7 35.6,-243.1 83.1,-201.6 118.7,-165.9 169.2,-142.2 175.1,-82.8 151.3,-41.3 169.2,0.3 198.8,35.9 185.5,60.3 183.5,79.8 177.7,99.2 166.0,105.0 155.3,99.2 146.6,83.7 136.9,68.1 132.0,54.5 129.1,58.4 117.5,62.3 103.9,71.0 97.1,79.8 89.3,86.6 90.3,95.3 79.6,107.9 61.1,117.7 51.4,114.7 49.5,101.1 41.7,101.1 30.0,110.9 22.3,110.9 12.6,114.7 2.8,125.4 -6.9,135.1 -21.4,148.7 -36.0,153.6 -51.6,154.6 -65.2,130.3 -74.9,91.4 -82.6,56.5 -104.3,44.8 -114.0,52.6 -131.5,72.0 -139.3,91.4 -154.8,107.0 -174.3,119.6 -194.7,123.5 -208.3,110.9 -199.5,72.0 -195.6,23.4 -211.2,2.1 -234.5,0.1 -250.0,-25.1 -250.0,-48.5 -255.3,-29.4 -255.3,-82.8 -225.6,-109.6 -195.9,-127.4 -178.1,-160.0 -154.4,-171.9 -118.8,-183.8 -71.3,-198.6 -59.4,-225.3 -79.4,-193.1 -63.9,-224.2 -58.1,-247.5Z" fill="#fff"/>
</g></g>
<ellipse cx="77.6" cy="52.6" rx="9" ry="9" fill="rgb(183,183,183)"/>
</g></g>
</g>
</defs>
<rect width="2861" height="2667" fill="#fff"/>
<text x="1356.4" y="86.3" font-size="75" text-anchor="middle">ICEFRAC - MAM - NHPolar</text>

<g transform="translate(734.3,764.0)"><circle r="495.0" fill="#f8f1ed"/><use href="#ice"/><use href="#coast"/><circle r="503.0" fill="none" stroke="#000" stroke-width="3.4"/></g>
<g transform="translate(2053.2,764.0)"><circle r="495.0" fill="#f8f1ed"/><use href="#ice"/><use href="#coast"/><circle r="503.0" fill="none" stroke="#000" stroke-width="3.4"/></g>
<g transform="translate(1393.6,2023.9)"><circle r="495.0" fill="#f7f6f6"/><g clip-path="url(#clipf)"><ellipse cx="-13.5" cy="-322.1" rx="3.0" ry="7.3" fill="#fdddcb" transform="rotate(-20 -13.5 -322.1)"/>
<ellipse cx="-41.0" cy="-338.3" rx="2.8" ry="6.7" fill="#d4e6f1" transform="rotate(35 -41.0 -338.3)"/>
<ellipse cx="10.8" cy="-307.5" rx="2.3" ry="5.6" fill="#fdddcb" transform="rotate(35 10.8 -307.5)"/>
<ellipse cx="27.0" cy="-296.2" rx="2.3" ry="5.6" fill="#fdddcb" transform="rotate(35 27.0 -296.2)"/>
<ellipse cx="-11.9" cy="-254.1" rx="2.8" ry="6.7" fill="#f6af8e" transform="rotate(-20 -11.9 -254.1)"/>
<ellipse cx="-18.4" cy="-234.7" rx="2.8" ry="6.7" fill="#fdddcb" transform="rotate(35 -18.4 -234.7)"/>
<ellipse cx="9.2" cy="-212.0" rx="2.3" ry="5.6" fill="#be3036" transform="rotate(35 9.2 -212.0)"/>
<ellipse cx="15.6" cy="-210.4" rx="2.3" ry="5.6" fill="#59a1ca" transform="rotate(35 15.6 -210.4)"/>
<ellipse cx="23.7" cy="-208.8" rx="2.3" ry="5.6" fill="#de735c" transform="rotate(35 23.7 -208.8)"/>
<ellipse cx="41.5" cy="-208.8" rx="2.3" ry="5.6" fill="#f6af8e" transform="rotate(-20 41.5 -208.8)"/>
<ellipse cx="-100.9" cy="-174.8" rx="2.5" ry="6.2" fill="#be3036" transform="rotate(-20 -100.9 -174.8)"/>
<ellipse cx="-118.7" cy="-171.5" rx="2.3" ry="5.6" fill="#d4e6f1" transform="rotate(-20 -118.7 -171.5)"/>
<ellipse cx="-134.9" cy="-161.8" rx="2.3" ry="5.6" fill="#fdddcb" transform="rotate(35 -134.9 -161.8)"/>
<ellipse cx="-154.4" cy="-145.6" rx="2.5" ry="6.2" fill="#59a1ca" transform="rotate(35 -154.4 -145.6)"/>
<ellipse cx="-70.2" cy="-187.7" rx="2.3" ry="5.6" fill="#d4e6f1" transform="rotate(35 -70.2 -187.7)"/>
<ellipse cx="137.1" cy="-132.7" rx="2.5" ry="6.2" fill="#de735c" transform="rotate(35 137.1 -132.7)"/>
<ellipse cx="150.0" cy="-105.1" rx="2.3" ry="5.6" fill="#fdddcb" transform="rotate(-20 150.0 -105.1)"/>
<ellipse cx="137.1" cy="-98.7" rx="2.3" ry="5.6" fill="#fdddcb" transform="rotate(-20 137.1 -98.7)"/>
<ellipse cx="-180.3" cy="-111.6" rx="2.3" ry="5.6" fill="#be3036" transform="rotate(35 -180.3 -111.6)"/>
<ellipse cx="-196.5" cy="-108.4" rx="2.3" ry="5.6" fill="#fdddcb" transform="rotate(35 -196.5 -108.4)"/>
<ellipse cx="-141.4" cy="-79.2" rx="2.3" ry="5.6" fill="#fdddcb" transform="rotate(-20 -141.4 -79.2)"/>
<ellipse cx="-167.3" cy="-69.5" rx="2.3" ry="5.6" fill="#d4e6f1" transform="rotate(35 -167.3 -69.5)"/>
<ellipse cx="-196.5" cy="-45.2" rx="2.3" ry="5.6" fill="#d4e6f1" transform="rotate(35 -196.5 -45.2)"/>
<ellipse cx="-172.2" cy="-22.6" rx="2.3" ry="5.6" fill="#fdddcb" transform="rotate(35 -172.2 -22.6)"/>
<ellipse cx="-133.3" cy="-48.5" rx="2.3" ry="5.6" fill="#f6af8e" transform="rotate(35 -133.3 -48.5)"/>
<ellipse cx="-222.4" cy="4.9" rx="2.3" ry="5.6" fill="#de735c" transform="rotate(35 -222.4 4.9)"/>
<ellipse cx="-206.2" cy="47.0" rx="2.8" ry="6.7" fill="#de735c" transform="rotate(35 -206.2 47.0)"/>
<ellipse cx="-186.7" cy="68.1" rx="2.3" ry="5.6" fill="#f6af8e" transform="rotate(35 -186.7 68.1)"/>
<ellipse cx="-283.9" cy="76.2" rx="2.8" ry="6.7" fill="#de735c" transform="rotate(-20 -283.9 76.2)"/>
<ellipse cx="-212.7" cy="30.8" rx="2.3" ry="5.6" fill="#fdddcb" transform="rotate(35 -212.7 30.8)"/>
<ellipse cx="-274.2" cy="22.8" rx="2.3" ry="5.6" fill="#fdddcb" transform="rotate(35 -274.2 22.8)"/>
<ellipse cx="-277.4" cy="4.9" rx="2.3" ry="5.6" fill="#d4e6f1" transform="rotate(35 -277.4 4.9)"/>
<ellipse cx="-125.2" cy="63.2" rx="2.3" ry="5.6" fill="#59a1ca" transform="rotate(35 -125.2 63.2)"/>
<ellipse cx="-131.7" cy="55.1" rx="2.3" ry="5.6" fill="#fdddcb" transform="rotate(35 -131.7 55.1)"/>
<ellipse cx="-66.9" cy="13.0" rx="2.3" ry="5.6" fill="#be3036" transform="rotate(35 -66.9 13.0)"/>
<ellipse cx="-86.4" cy="-4.8" rx="2.3" ry="5.6" fill="#f6af8e" transform="rotate(35 -86.4 -4.8)"/>
<ellipse cx="-37.8" cy="45.4" rx="2.8" ry="6.7" fill="#be3036" transform="rotate(35 -37.8 45.4)"/>
<ellipse cx="-31.3" cy="50.3" rx="2.8" ry="6.7" fill="#be3036" transform="rotate(35 -31.3 50.3)"/>
<ellipse cx="-44.3" cy="48.7" rx="2.3" ry="5.6" fill="#f6af8e" transform="rotate(35 -44.3 48.7)"/>
<ellipse cx="17.2" cy="98.8" rx="2.3" ry="5.6" fill="#de735c" transform="rotate(35 17.2 98.8)"/>
<ellipse cx="9.2" cy="100.5" rx="2.3" ry="5.6" fill="#d4e6f1" transform="rotate(35 9.2 100.5)"/>
<ellipse cx="28.6" cy="94.0" rx="2.3" ry="5.6" fill="#fdddcb" transform="rotate(35 28.6 94.0)"/>
<ellipse cx="117.6" cy="68.1" rx="3.0" ry="7.3" fill="#fdddcb" transform="rotate(-20 117.6 68.1)"/>
<ellipse cx="133.8" cy="63.2" rx="2.3" ry="5.6" fill="#d4e6f1" transform="rotate(35 133.8 63.2)"/>
<ellipse cx="73.9" cy="119.9" rx="3.0" ry="7.3" fill="#d4e6f1" transform="rotate(35 73.9 119.9)"/>
<ellipse cx="62.6" cy="134.5" rx="2.3" ry="5.6" fill="#fdddcb" transform="rotate(35 62.6 134.5)"/>
<ellipse cx="-10.3" cy="140.9" rx="3.0" ry="7.3" fill="#fdddcb" transform="rotate(35 -10.3 140.9)"/>
<ellipse cx="56.1" cy="140.9" rx="2.3" ry="5.6" fill="#fdddcb" transform="rotate(35 56.1 140.9)"/>
<ellipse cx="99.8" cy="128.0" rx="2.8" ry="6.7" fill="#fdddcb" transform="rotate(35 99.8 128.0)"/>
<ellipse cx="188.9" cy="95.6" rx="2.3" ry="5.6" fill="#59a1ca" transform="rotate(35 188.9 95.6)"/>
<ellipse cx="192.1" cy="84.3" rx="2.3" ry="5.6" fill="#f6af8e" transform="rotate(35 192.1 84.3)"/>
<ellipse cx="185.6" cy="119.9" rx="2.3" ry="5.6" fill="#de735c" transform="rotate(-20 185.6 119.9)"/>
<ellipse cx="177.5" cy="134.5" rx="2.3" ry="5.6" fill="#fdddcb" transform="rotate(35 177.5 134.5)"/>
<ellipse cx="172.7" cy="43.8" rx="2.3" ry="5.6" fill="#d4e6f1" transform="rotate(35 172.7 43.8)"/>
<ellipse cx="159.7" cy="-4.8" rx="2.3" ry="5.6" fill="#fdddcb" transform="rotate(35 159.7 -4.8)"/>
<ellipse cx="153.2" cy="1.7" rx="2.3" ry="5.6" fill="#d4e6f1" transform="rotate(35 153.2 1.7)"/>
<ellipse cx="172.7" cy="-281.6" rx="2.3" ry="5.6" fill="#f6af8e" transform="rotate(35 172.7 -281.6)"/>
<ellipse cx="182.4" cy="-271.9" rx="2.3" ry="5.6" fill="#de735c" transform="rotate(35 182.4 -271.9)"/>
<ellipse cx="198.6" cy="-260.6" rx="2.3" ry="5.6" fill="#d4e6f1" transform="rotate(35 198.6 -260.6)"/>
<ellipse cx="250.4" cy="-286.5" rx="3.7" ry="9.0" fill="#d4e6f1" transform="rotate(35 250.4 -286.5)"/>
<ellipse cx="99.8" cy="-288.1" rx="3.7" ry="9.0" fill="#d4e6f1" transform="rotate(35 99.8 -288.1)"/>
<ellipse cx="237.4" cy="-309.1" rx="2.3" ry="5.6" fill="#fdddcb" transform="rotate(35 237.4 -309.1)"/>
<ellipse cx="111.1" cy="-305.9" rx="2.3" ry="5.6" fill="#fdddcb" transform="rotate(35 111.1 -305.9)"/>
<ellipse cx="-102.6" cy="197.6" rx="2.8" ry="6.7" fill="#be3036" transform="rotate(-20 -102.6 197.6)"/>
<ellipse cx="-122.0" cy="196.0" rx="2.3" ry="5.6" fill="#fdddcb" transform="rotate(35 -122.0 196.0)"/>
<ellipse cx="-109.0" cy="191.1" rx="2.3" ry="5.6" fill="#d4e6f1" transform="rotate(-20 -109.0 191.1)"/>
<ellipse cx="-131.7" cy="218.7" rx="2.3" ry="5.6" fill="#fdddcb" transform="rotate(-20 -131.7 218.7)"/>
<ellipse cx="-102.6" cy="220.3" rx="3.0" ry="7.3" fill="#d4e6f1" transform="rotate(35 -102.6 220.3)"/>
<ellipse cx="-151.1" cy="204.1" rx="2.3" ry="5.6" fill="#d4e6f1" transform="rotate(-20 -151.1 204.1)"/>
<ellipse cx="-270.9" cy="111.8" rx="3.0" ry="7.3" fill="#d4e6f1" transform="rotate(35 -270.9 111.8)"/>
<ellipse cx="-261.2" cy="79.4" rx="2.3" ry="5.6" fill="#d4e6f1" transform="rotate(-20 -261.2 79.4)"/>
<ellipse cx="237.4" cy="-267.0" rx="3.4" ry="8.4" fill="#d4e6f1" transform="rotate(35 237.4 -267.0)"/>
<ellipse cx="90.1" cy="-171.5" rx="2.3" ry="5.6" fill="#d4e6f1" transform="rotate(35 90.1 -171.5)"/>
<ellipse cx="99.8" cy="-150.5" rx="2.3" ry="5.6" fill="#9dcbe1" transform="rotate(-20 99.8 -150.5)"/>
<ellipse cx="117.6" cy="-150.5" rx="2.3" ry="5.6" fill="#d4e6f1" transform="rotate(35 117.6 -150.5)"/>
<ellipse cx="169.4" cy="17.9" rx="2.3" ry="5.6" fill="#fdddcb" transform="rotate(35 169.4 17.9)"/>
<ellipse cx="166.2" cy="60.0" rx="2.3" ry="5.6" fill="#fdddcb" transform="rotate(35 166.2 60.0)"/>
<ellipse cx="-334.3" cy="-22.1" rx="2.3" ry="5.6" fill="#f6af8e" transform="rotate(35 -334.3 -22.1)"/>
<ellipse cx="-363.6" cy="-0.1" rx="2.3" ry="5.6" fill="#fdddcb" transform="rotate(35 -363.6 -0.1)"/>
<ellipse cx="-367.3" cy="23.8" rx="2.8" ry="6.7" fill="#de735c" transform="rotate(35 -367.3 23.8)"/>
<ellipse cx="-371.0" cy="32.9" rx="2.3" ry="5.6" fill="#d4e6f1" transform="rotate(35 -371.0 32.9)"/>
<ellipse cx="-372.8" cy="10.9" rx="2.3" ry="5.6" fill="#d4e6f1" transform="rotate(35 -372.8 10.9)"/>
<ellipse cx="-275.6" cy="1.7" rx="4.1" ry="10.1" fill="#d4e6f1" transform="rotate(35 -275.6 1.7)"/>
<ellipse cx="-284.7" cy="75.1" rx="2.8" ry="6.7" fill="#de735c" transform="rotate(35 -284.7 75.1)"/>
<ellipse cx="-264.6" cy="75.1" rx="2.3" ry="5.6" fill="#59a1ca" transform="rotate(35 -264.6 75.1)"/>
<ellipse cx="-409.5" cy="71.5" rx="4.6" ry="11.2" fill="#d4e6f1" transform="rotate(-20 -409.5 71.5)"/>
<ellipse cx="-360.0" cy="88.9" rx="2.3" ry="5.6" fill="#fdddcb" transform="rotate(35 -360.0 88.9)"/>
<ellipse cx="-205.8" cy="44.9" rx="2.8" ry="6.7" fill="#de735c" transform="rotate(-20 -205.8 44.9)"/>
<ellipse cx="-187.5" cy="68.7" rx="2.8" ry="6.7" fill="#de735c" transform="rotate(35 -187.5 68.7)"/>
<ellipse cx="-206.8" cy="30.2" rx="3.0" ry="7.3" fill="#fdddcb" transform="rotate(35 -206.8 30.2)"/>
<ellipse cx="-218.7" cy="5.4" rx="2.3" ry="5.6" fill="#de735c" transform="rotate(35 -218.7 5.4)"/>
<ellipse cx="-180.2" cy="-113.9" rx="2.3" ry="5.6" fill="#be3036" transform="rotate(35 -180.2 -113.9)"/>
<ellipse cx="-189.3" cy="-29.5" rx="2.3" ry="5.6" fill="#fdddcb" transform="rotate(35 -189.3 -29.5)"/>
<ellipse cx="-271.9" cy="21.9" rx="2.3" ry="5.6" fill="#fdddcb" transform="rotate(35 -271.9 21.9)"/>
<ellipse cx="-229.7" cy="-40.5" rx="2.3" ry="5.6" fill="#fdddcb" transform="rotate(-20 -229.7 -40.5)"/>
<ellipse cx="-196.7" cy="-46.0" rx="3.0" ry="7.3" fill="#d4e6f1" transform="rotate(35 -196.7 -46.0)"/>
<ellipse cx="-42.0" cy="-338.3" rx="4.1" ry="10.1" fill="#d4e6f1" transform="rotate(-20 -42.0 -338.3)"/>
<ellipse cx="-13.6" cy="-321.7" rx="4.1" ry="10.1" fill="#fdddcb" transform="rotate(-20 -13.6 -321.7)"/>
<ellipse cx="10.3" cy="-308.0" rx="3.2" ry="7.8" fill="#fdddcb" transform="rotate(35 10.3 -308.0)"/>
<ellipse cx="25.9" cy="-295.1" rx="2.8" ry="6.7" fill="#f6af8e" transform="rotate(35 25.9 -295.1)"/>
<ellipse cx="-10.8" cy="-253.9" rx="3.0" ry="7.3" fill="#de735c" transform="rotate(35 -10.8 -253.9)"/>
<ellipse cx="-31.0" cy="-263.0" rx="3.4" ry="8.4" fill="#d4e6f1" transform="rotate(35 -31.0 -263.0)"/>
<ellipse cx="-18.1" cy="-233.7" rx="3.2" ry="7.8" fill="#f6af8e" transform="rotate(35 -18.1 -233.7)"/>
<ellipse cx="-31.9" cy="-241.0" rx="2.3" ry="5.6" fill="#9dcbe1" transform="rotate(35 -31.9 -241.0)"/>
<ellipse cx="9.4" cy="-210.7" rx="2.8" ry="6.7" fill="#be3036" transform="rotate(-20 9.4 -210.7)"/>
<ellipse cx="15.8" cy="-210.7" rx="2.5" ry="6.2" fill="#2c75b4" transform="rotate(35 15.8 -210.7)"/>
<ellipse cx="23.1" cy="-209.8" rx="2.8" ry="6.7" fill="#be3036" transform="rotate(35 23.1 -209.8)"/>
<ellipse cx="42.4" cy="-210.7" rx="3.0" ry="7.3" fill="#f6af8e" transform="rotate(35 42.4 -210.7)"/>
<ellipse cx="-101.6" cy="-175.0" rx="3.0" ry="7.3" fill="#be3036" transform="rotate(35 -101.6 -175.0)"/>
<ellipse cx="-115.4" cy="-173.1" rx="3.0" ry="7.3" fill="#d4e6f1" transform="rotate(35 -115.4 -173.1)"/>
<ellipse cx="100.2" cy="-291.5" rx="3.4" ry="8.4" fill="#d4e6f1" transform="rotate(35 100.2 -291.5)"/>
<ellipse cx="115.8" cy="-309.8" rx="3.0" ry="7.3" fill="#fdddcb" transform="rotate(-20 115.8 -309.8)"/>
<ellipse cx="77.3" cy="-182.3" rx="3.0" ry="7.3" fill="#d4e6f1" transform="rotate(35 77.3 -182.3)"/>
<ellipse cx="181.5" cy="-272.2" rx="3.0" ry="7.3" fill="#de735c" transform="rotate(35 181.5 -272.2)"/>
<ellipse cx="239.3" cy="-308.9" rx="2.8" ry="6.7" fill="#fdddcb" transform="rotate(35 239.3 -308.9)"/>
<ellipse cx="252.1" cy="-283.2" rx="4.6" ry="11.2" fill="#d4e6f1" transform="rotate(-20 252.1 -283.2)"/>
<ellipse cx="237.5" cy="-266.7" rx="4.6" ry="11.2" fill="#d4e6f1" transform="rotate(35 237.5 -266.7)"/>
<ellipse cx="266.8" cy="-333.7" rx="2.8" ry="6.7" fill="#d4e6f1" transform="rotate(-20 266.8 -333.7)"/>
<ellipse cx="-122.7" cy="195.9" rx="3.0" ry="7.3" fill="#f6af8e" transform="rotate(35 -122.7 195.9)"/>
<ellipse cx="-99.8" cy="196.8" rx="3.2" ry="7.8" fill="#be3036" transform="rotate(35 -99.8 196.8)"/>
<ellipse cx="-131.0" cy="216.1" rx="2.8" ry="6.7" fill="#f6af8e" transform="rotate(35 -131.0 216.1)"/>
<ellipse cx="-98.0" cy="219.7" rx="5.1" ry="12.3" fill="#d4e6f1" transform="rotate(35 -98.0 219.7)"/>
<ellipse cx="-113.6" cy="189.4" rx="2.8" ry="6.7" fill="#d4e6f1" transform="rotate(35 -113.6 189.4)"/>
<ellipse cx="-68.6" cy="216.1" rx="3.0" ry="7.3" fill="#fdddcb" transform="rotate(35 -68.6 216.1)"/>
<ellipse cx="105.7" cy="244.5" rx="3.0" ry="7.3" fill="#fdddcb" transform="rotate(-20 105.7 244.5)"/>
<ellipse cx="176.9" cy="34.8" rx="3.0" ry="7.3" fill="#d4e6f1" transform="rotate(35 176.9 34.8)"/>
<ellipse cx="175.1" cy="44.9" rx="2.3" ry="5.6" fill="#59a1ca" transform="rotate(35 175.1 44.9)"/>
<ellipse cx="175.1" cy="51.3" rx="2.3" ry="5.6" fill="#de735c" transform="rotate(35 175.1 51.3)"/>
<ellipse cx="192.5" cy="88.9" rx="3.0" ry="7.3" fill="#be3036" transform="rotate(35 192.5 88.9)"/>
<ellipse cx="188.8" cy="95.3" rx="2.8" ry="6.7" fill="#9dcbe1" transform="rotate(35 188.8 95.3)"/>
<ellipse cx="187.0" cy="120.1" rx="2.8" ry="6.7" fill="#be3036" transform="rotate(35 187.0 120.1)"/>
<ellipse cx="176.0" cy="135.7" rx="2.8" ry="6.7" fill="#fdddcb" transform="rotate(35 176.0 135.7)"/>
<ellipse cx="184.2" cy="111.8" rx="2.8" ry="6.7" fill="#fdddcb" transform="rotate(35 184.2 111.8)"/></g><use href="#coast"/><circle r="503.0" fill="none" stroke="#000" stroke-width="3.4"/></g>
<text y="206" font-size="25"><tspan x="232.1" class="b">Test</tspan><tspan x="296.3">:</tspan><tspan x="311.2">f.cam6_3_153.FCMTnudged_climate_chemistry_ne30.factor_fix</tspan></text>
<text x="232" y="236.6" font-size="25">years: 1995-2001</text>
<text y="206" font-size="25"><tspan x="1550.6" class="b">Baseline</tspan><tspan x="1675.5">:</tspan><tspan x="1688.6">f.cam6_3_153.FMTHISTnudged_ne30.001</tspan></text>
<text x="1550.5" y="236.6" font-size="25">years: 1995-2001</text>
<text y="1497.3" font-size="33.33"><tspan x="892.4" class="b" letter-spacing="0.9">Test</tspan><tspan x="979.1">−</tspan><tspan x="1013.7" class="b">Baseline</tspan></text>

<text x="30.3" y="1275.8" font-size="41.67" xml:space="preserve" style="white-space:pre">Mean:  0.15</text>
<text x="30.3" y="1321.8" font-size="41.67" xml:space="preserve" style="white-space:pre">Max:  1.00</text>
<text x="30.3" y="1367.8" font-size="41.67" xml:space="preserve" style="white-space:pre">Min: -0.00</text>
<text x="1349.3" y="1275.8" font-size="41.67" xml:space="preserve" style="white-space:pre">Mean:  0.15</text>
<text x="1349.3" y="1321.8" font-size="41.67" xml:space="preserve" style="white-space:pre">Max:  1.00</text>
<text x="1349.3" y="1367.8" font-size="41.67" xml:space="preserve" style="white-space:pre">Min:  0.00</text>
<text x="689.4" y="2535.6" font-size="41.67" xml:space="preserve" style="white-space:pre">Mean: -0.00</text>
<text x="689.4" y="2581.6" font-size="41.67" xml:space="preserve" style="white-space:pre">Max:  0.00</text>
<text x="689.4" y="2627.6" font-size="41.67" xml:space="preserve" style="white-space:pre">Min: -0.00</text>
<rect x="2607.6" y="1134.88" width="49.7" height="82.92" fill="#f8f1ed"/>
<rect x="2607.6" y="1052.56" width="49.7" height="82.92" fill="#fbe4d6"/>
<rect x="2607.6" y="970.25" width="49.7" height="82.92" fill="#fcd3bc"/>
<rect x="2607.6" y="887.93" width="49.7" height="82.92" fill="#f8bb9e"/>
<rect x="2607.6" y="805.61" width="49.7" height="82.92" fill="#f2a17f"/>
<rect x="2607.6" y="723.29" width="49.7" height="82.92" fill="#e48066"/>
<rect x="2607.6" y="640.97" width="49.7" height="82.92" fill="#d7634f"/>
<rect x="2607.6" y="558.65" width="49.7" height="82.92" fill="#c6413e"/>
<rect x="2607.6" y="476.34" width="49.7" height="82.92" fill="#b72230"/>
<rect x="2607.6" y="394.02" width="49.7" height="82.92" fill="#991027"/>
<rect x="2607.6" y="311.70" width="49.7" height="82.92" fill="#760521"/>
<rect x="2607.6" y="311.7" width="49.7" height="905.5" fill="none" stroke="#000" stroke-width="3.3"/>
<line x1="2657.3" x2="2671.9" y1="1217.20" y2="1217.20" stroke="#000" stroke-width="3.3"/>
<text x="2685.8" y="1233.00" font-size="41.67">0.0000</text>
<line x1="2657.3" x2="2671.9" y1="1052.56" y2="1052.56" stroke="#000" stroke-width="3.3"/>
<text x="2685.8" y="1068.36" font-size="41.67">0.1817</text>
<line x1="2657.3" x2="2671.9" y1="887.93" y2="887.93" stroke="#000" stroke-width="3.3"/>
<text x="2685.8" y="903.73" font-size="41.67">0.3634</text>
<line x1="2657.3" x2="2671.9" y1="723.29" y2="723.29" stroke="#000" stroke-width="3.3"/>
<text x="2685.8" y="739.09" font-size="41.67">0.5452</text>
<line x1="2657.3" x2="2671.9" y1="558.65" y2="558.65" stroke="#000" stroke-width="3.3"/>
<text x="2685.8" y="574.45" font-size="41.67">0.7269</text>
<line x1="2657.3" x2="2671.9" y1="394.02" y2="394.02" stroke="#000" stroke-width="3.3"/>
<text x="2685.8" y="409.82" font-size="41.67">0.9086</text>
<rect x="1947.6" y="2394.85" width="51.0" height="82.95" fill="#114781"/>
<rect x="1947.6" y="2312.49" width="51.0" height="82.95" fill="#2c75b4"/>
<rect x="1947.6" y="2230.14" width="51.0" height="82.95" fill="#59a1ca"/>
<rect x="1947.6" y="2147.78" width="51.0" height="82.95" fill="#9dcbe1"/>
<rect x="1947.6" y="2065.43" width="51.0" height="82.95" fill="#d4e6f1"/>
<rect x="1947.6" y="1983.07" width="51.0" height="82.95" fill="#f7f6f6"/>
<rect x="1947.6" y="1900.72" width="51.0" height="82.95" fill="#fdddcb"/>
<rect x="1947.6" y="1818.36" width="51.0" height="82.95" fill="#f6af8e"/>
<rect x="1947.6" y="1736.01" width="51.0" height="82.95" fill="#de735c"/>
<rect x="1947.6" y="1653.65" width="51.0" height="82.95" fill="#be3036"/>
<rect x="1947.6" y="1571.30" width="51.0" height="82.95" fill="#870a24"/>
<rect x="1947.6" y="1571.3" width="51.0" height="905.9" fill="none" stroke="#000" stroke-width="3.3"/>
<line x1="1998.6" x2="2013.2" y1="2477.20" y2="2477.20" stroke="#000" stroke-width="3.3"/>
<text x="2025.3" y="2493.00" font-size="41.67">−2.075</text>
<line x1="1998.6" x2="2013.2" y1="2312.49" y2="2312.49" stroke="#000" stroke-width="3.3"/>
<text x="2025.3" y="2328.29" font-size="41.67">−1.320</text>
<line x1="1998.6" x2="2013.2" y1="2147.78" y2="2147.78" stroke="#000" stroke-width="3.3"/>
<text x="2025.3" y="2163.58" font-size="41.67">−0.566</text>
<line x1="1998.6" x2="2013.2" y1="1983.07" y2="1983.07" stroke="#000" stroke-width="3.3"/>
<text x="2025.3" y="1998.87" font-size="41.67">0.189</text>
<line x1="1998.6" x2="2013.2" y1="1818.36" y2="1818.36" stroke="#000" stroke-width="3.3"/>
<text x="2025.3" y="1834.16" font-size="41.67">0.943</text>
<line x1="1998.6" x2="2013.2" y1="1653.65" y2="1653.65" stroke="#000" stroke-width="3.3"/>
<text x="2025.3" y="1669.45" font-size="41.67">1.698</text>
<text x="1883.5" y="1557.8" font-size="41.67">1e−8</text>
</svg></body></html>
